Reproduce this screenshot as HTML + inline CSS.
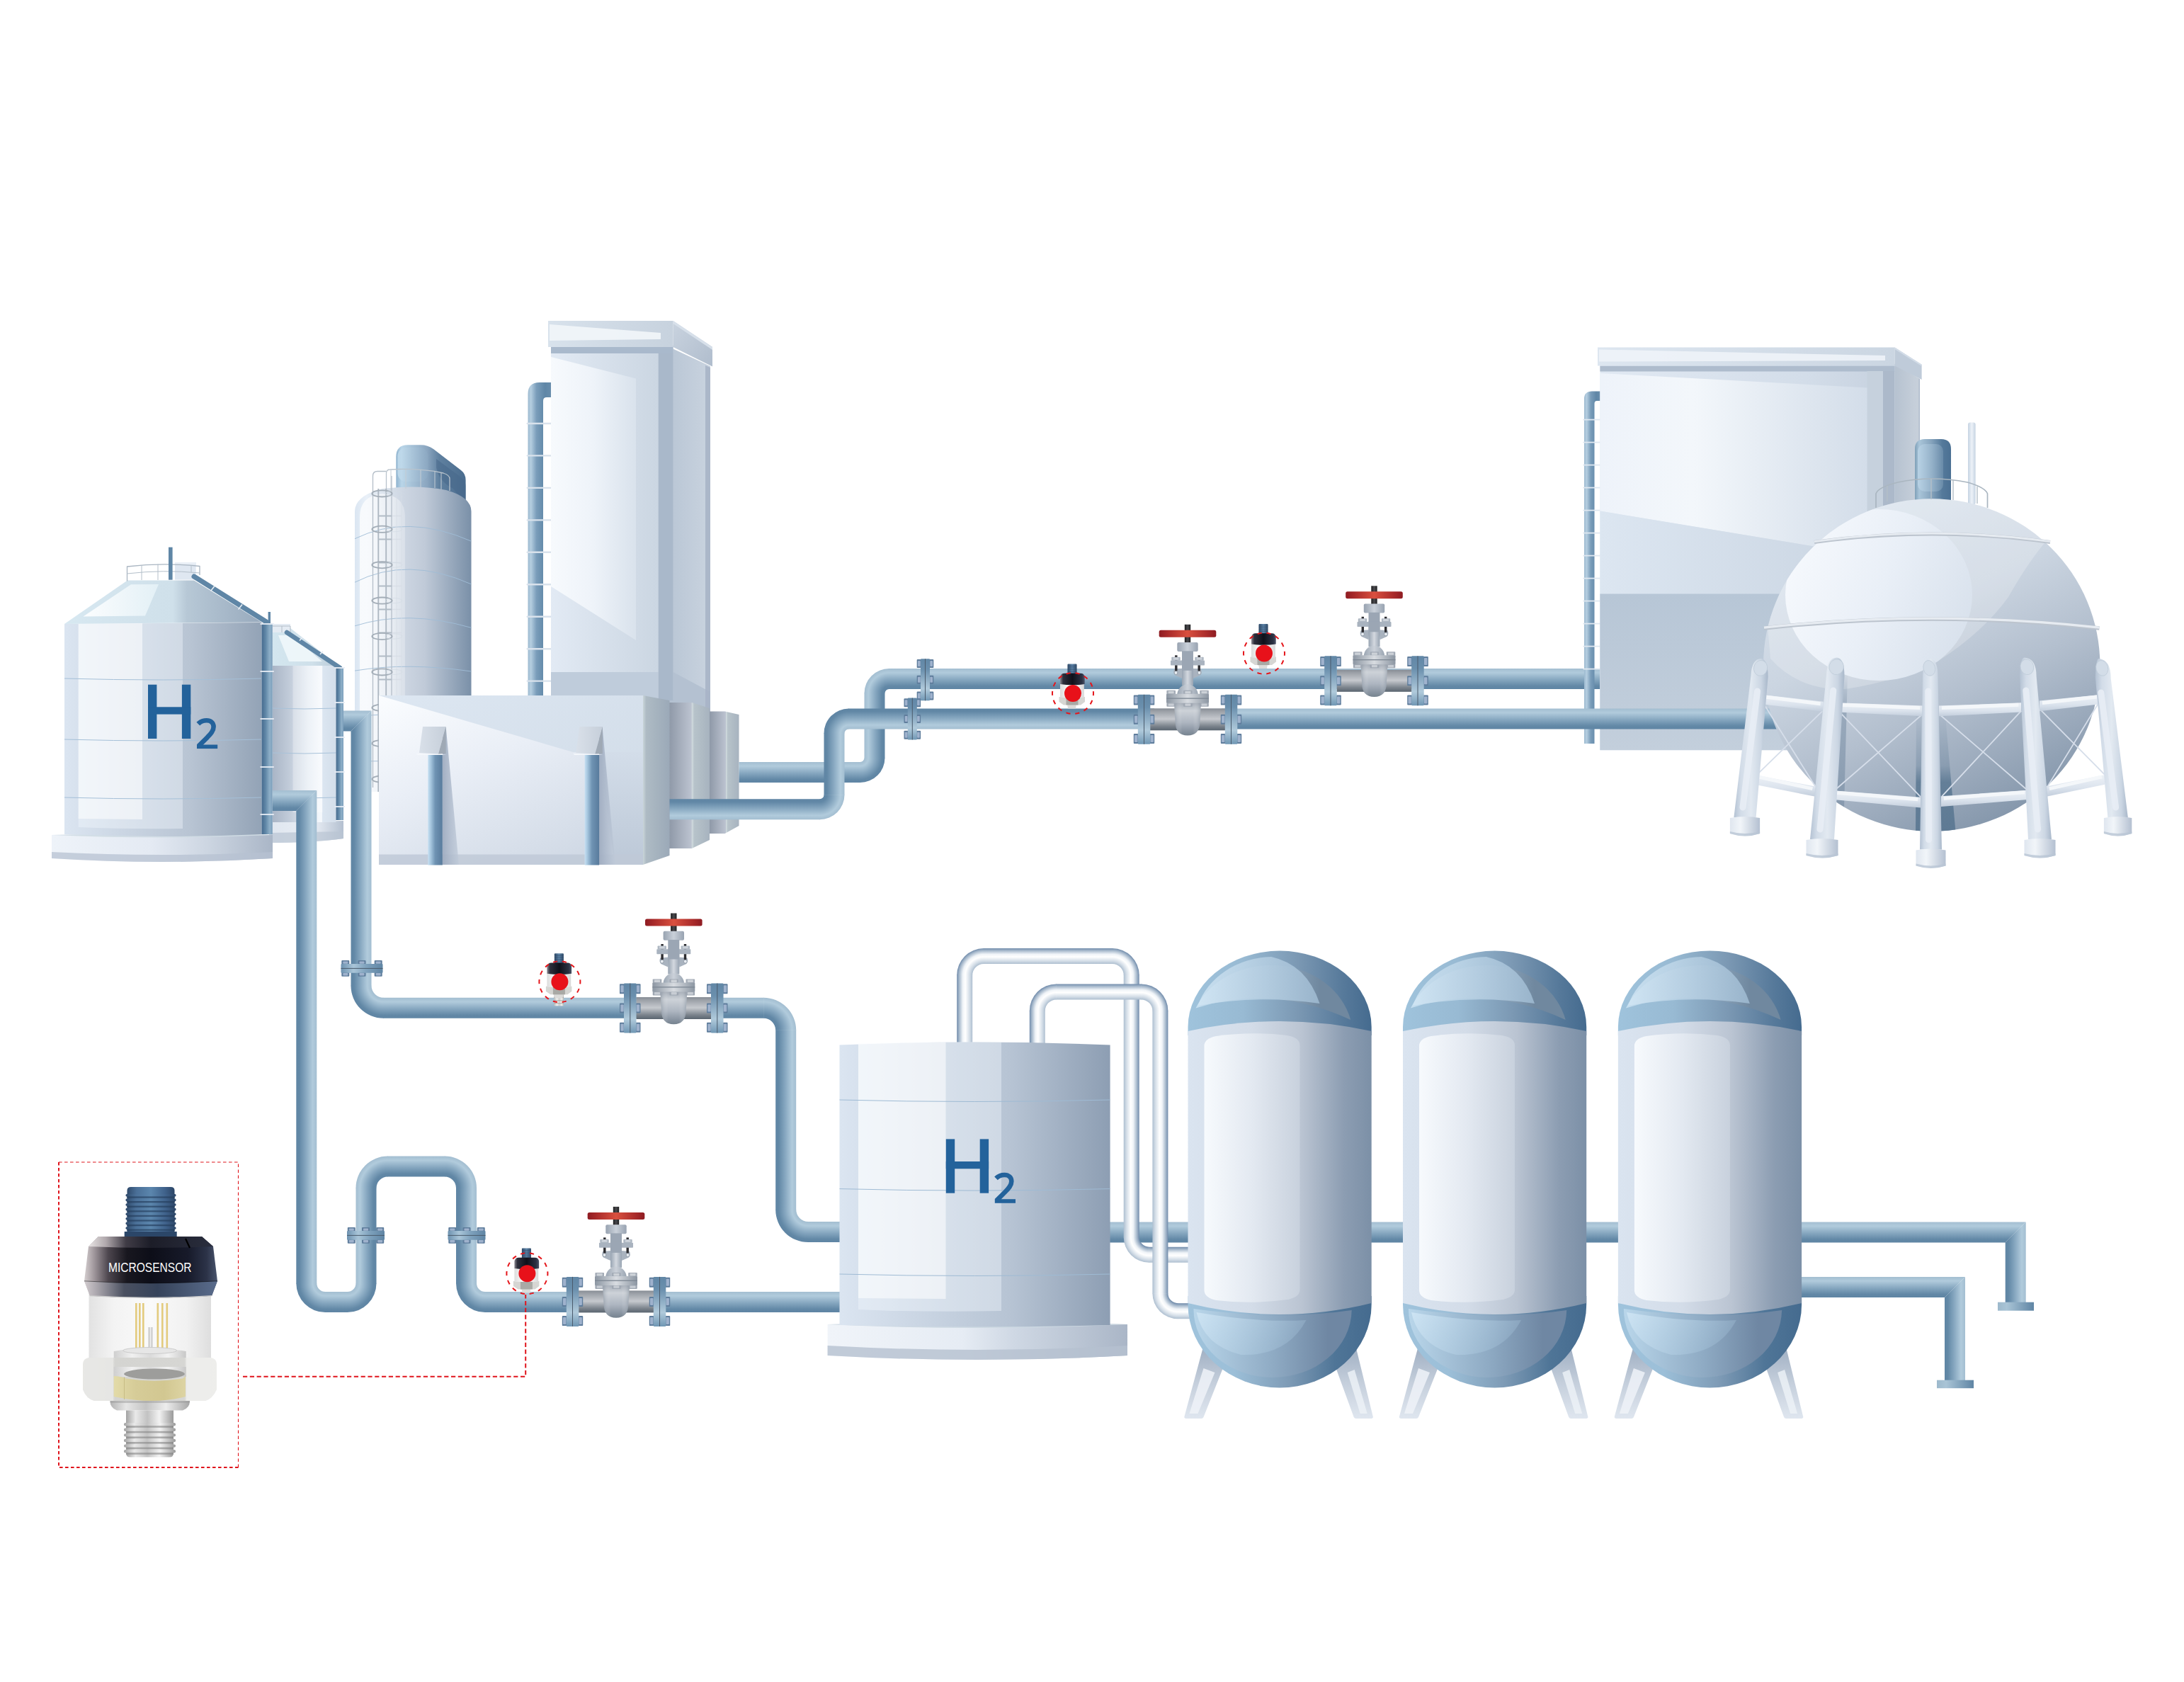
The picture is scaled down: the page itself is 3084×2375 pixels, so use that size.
<!DOCTYPE html>
<html><head><meta charset="utf-8"><title>H2 process diagram</title>
<style>html,body{margin:0;padding:0;background:#fff;}svg{display:block;font-family:"Liberation Sans",sans-serif;}</style></head>
<body>
<svg width="3084" height="2375" viewBox="0 0 3084 2375">
<defs>
<linearGradient id="g1" x1="0" y1="0" x2="0" y2="1"><stop offset="0" stop-color="#a3bed1"/><stop offset="0.2" stop-color="#b1cbdc"/><stop offset="0.55" stop-color="#85a6bf"/><stop offset="0.85" stop-color="#6288a6"/><stop offset="1" stop-color="#5f85a4"/></linearGradient>
<linearGradient id="g2" x1="1" y1="0" x2="0" y2="0"><stop offset="0" stop-color="#a3bed1"/><stop offset="0.2" stop-color="#b1cbdc"/><stop offset="0.55" stop-color="#85a6bf"/><stop offset="0.85" stop-color="#6288a6"/><stop offset="1" stop-color="#5f85a4"/></linearGradient>
<linearGradient id="g3" x1="0" y1="0" x2="1" y2="0"><stop offset="0" stop-color="#9db9cc"/><stop offset="0.25" stop-color="#a9c4d6"/><stop offset="1" stop-color="#5f85a4"/></linearGradient>
<linearGradient id="g4" x1="0" y1="0" x2="1" y2="0"><stop offset="0" stop-color="#9db9cc"/><stop offset="0.25" stop-color="#a9c4d6"/><stop offset="1" stop-color="#5f85a4"/></linearGradient>
<linearGradient id="g5" x1="0" y1="0" x2="1" y2="0"><stop offset="0" stop-color="#6f8aaa"/><stop offset="0.14" stop-color="#a3b6ca"/><stop offset="0.38" stop-color="#f0f4f8"/><stop offset="0.55" stop-color="#ffffff"/><stop offset="0.82" stop-color="#d3dde7"/><stop offset="1" stop-color="#aebfd0"/></linearGradient>
<linearGradient id="g6" x1="0" y1="0" x2="0" y2="1"><stop offset="0" stop-color="#6f8aaa"/><stop offset="0.14" stop-color="#a3b6ca"/><stop offset="0.38" stop-color="#f0f4f8"/><stop offset="0.55" stop-color="#ffffff"/><stop offset="0.82" stop-color="#d3dde7"/><stop offset="1" stop-color="#aebfd0"/></linearGradient>
<linearGradient id="g7" x1="1" y1="0" x2="0" y2="0"><stop offset="0" stop-color="#6f8aaa"/><stop offset="0.14" stop-color="#a3b6ca"/><stop offset="0.38" stop-color="#f0f4f8"/><stop offset="0.55" stop-color="#ffffff"/><stop offset="0.82" stop-color="#d3dde7"/><stop offset="1" stop-color="#aebfd0"/></linearGradient>
<radialGradient id="g8" cx="1389.2" cy="1377" r="38" gradientUnits="userSpaceOnUse"><stop offset="0.421" stop-color="#aebfd0"/><stop offset="0.525" stop-color="#d3dde7"/><stop offset="0.682" stop-color="#ffffff"/><stop offset="0.78" stop-color="#f0f4f8"/><stop offset="0.919" stop-color="#a3b6ca"/><stop offset="1" stop-color="#6f8aaa"/></radialGradient>
<radialGradient id="g9" cx="1570.7" cy="1377" r="38" gradientUnits="userSpaceOnUse"><stop offset="0.421" stop-color="#aebfd0"/><stop offset="0.525" stop-color="#d3dde7"/><stop offset="0.682" stop-color="#ffffff"/><stop offset="0.78" stop-color="#f0f4f8"/><stop offset="0.919" stop-color="#a3b6ca"/><stop offset="1" stop-color="#6f8aaa"/></radialGradient>
<radialGradient id="g10" cx="1622.7" cy="1746.7" r="36" gradientUnits="userSpaceOnUse"><stop offset="0.389" stop-color="#6f8aaa"/><stop offset="0.474" stop-color="#a3b6ca"/><stop offset="0.621" stop-color="#f0f4f8"/><stop offset="0.725" stop-color="#ffffff"/><stop offset="0.89" stop-color="#d3dde7"/><stop offset="1" stop-color="#aebfd0"/></radialGradient>
<radialGradient id="g11" cx="1491.8" cy="1427.4" r="38" gradientUnits="userSpaceOnUse"><stop offset="0.421" stop-color="#aebfd0"/><stop offset="0.525" stop-color="#d3dde7"/><stop offset="0.682" stop-color="#ffffff"/><stop offset="0.78" stop-color="#f0f4f8"/><stop offset="0.919" stop-color="#a3b6ca"/><stop offset="1" stop-color="#6f8aaa"/></radialGradient>
<radialGradient id="g12" cx="1611.4" cy="1427.4" r="38" gradientUnits="userSpaceOnUse"><stop offset="0.421" stop-color="#aebfd0"/><stop offset="0.525" stop-color="#d3dde7"/><stop offset="0.682" stop-color="#ffffff"/><stop offset="0.78" stop-color="#f0f4f8"/><stop offset="0.919" stop-color="#a3b6ca"/><stop offset="1" stop-color="#6f8aaa"/></radialGradient>
<radialGradient id="g13" cx="1663.4" cy="1826.2" r="36" gradientUnits="userSpaceOnUse"><stop offset="0.389" stop-color="#6f8aaa"/><stop offset="0.474" stop-color="#a3b6ca"/><stop offset="0.621" stop-color="#f0f4f8"/><stop offset="0.725" stop-color="#ffffff"/><stop offset="0.89" stop-color="#d3dde7"/><stop offset="1" stop-color="#aebfd0"/></radialGradient>
<linearGradient id="g14" x1="0" y1="0" x2="0" y2="1"><stop offset="0" stop-color="#8d9eb5"/><stop offset="0.3" stop-color="#a9b7c9"/><stop offset="0.6" stop-color="#c5cfdc"/><stop offset="1" stop-color="#dfe6ef"/></linearGradient>
<linearGradient id="g15" x1="0" y1="0" x2="1" y2="0"><stop offset="0" stop-color="#9fc3dc"/><stop offset="0.25" stop-color="#9cbfd8"/><stop offset="0.55" stop-color="#7e9bb6"/><stop offset="0.8" stop-color="#4f7597"/><stop offset="1" stop-color="#456b8f"/></linearGradient>
<linearGradient id="g16" x1="0" y1="0" x2="1" y2="0"><stop offset="0" stop-color="#b9d6ea"/><stop offset="0.5" stop-color="#8fabc4"/><stop offset="0.85" stop-color="#6f87a3"/><stop offset="1" stop-color="#6f87a3"/></linearGradient>
<linearGradient id="g17" x1="0" y1="0" x2="1" y2="0.3"><stop offset="0" stop-color="#cfe5f4" stop-opacity="0.9"/><stop offset="1" stop-color="#a8c6dd" stop-opacity="0.3"/></linearGradient>
<linearGradient id="g18" x1="0" y1="0" x2="1" y2="0"><stop offset="0" stop-color="#9fc3dc"/><stop offset="0.3" stop-color="#98bad3"/><stop offset="0.6" stop-color="#7b98b3"/><stop offset="0.85" stop-color="#56799a"/><stop offset="1" stop-color="#456b8f"/></linearGradient>
<linearGradient id="g19" x1="0" y1="0" x2="1" y2="0"><stop offset="0" stop-color="#c6dff0"/><stop offset="0.45" stop-color="#9db8cf"/><stop offset="0.8" stop-color="#70889f"/><stop offset="1" stop-color="#70889f"/></linearGradient>
<linearGradient id="g20" x1="0" y1="0" x2="1" y2="0"><stop offset="0" stop-color="#d2e6f4"/><stop offset="1" stop-color="#a3bfd6"/></linearGradient>
<linearGradient id="g21" x1="0" y1="0" x2="1" y2="0"><stop offset="0" stop-color="#dae4f0"/><stop offset="0.35" stop-color="#d3dce8"/><stop offset="0.62" stop-color="#bac4d2"/><stop offset="0.85" stop-color="#8c9db2"/><stop offset="1" stop-color="#7c90a7"/></linearGradient>
<linearGradient id="g22" x1="0" y1="0" x2="1" y2="0"><stop offset="0" stop-color="#f7fafd"/><stop offset="0.5" stop-color="#e3e9f1"/><stop offset="1" stop-color="#c8d1dd"/></linearGradient>
<linearGradient id="g23" x1="0" y1="0" x2="0" y2="1"><stop offset="0" stop-color="#8d9eb5"/><stop offset="0.3" stop-color="#a9b7c9"/><stop offset="0.6" stop-color="#c5cfdc"/><stop offset="1" stop-color="#dfe6ef"/></linearGradient>
<linearGradient id="g24" x1="0" y1="0" x2="1" y2="0"><stop offset="0" stop-color="#9fc3dc"/><stop offset="0.25" stop-color="#9cbfd8"/><stop offset="0.55" stop-color="#7e9bb6"/><stop offset="0.8" stop-color="#4f7597"/><stop offset="1" stop-color="#456b8f"/></linearGradient>
<linearGradient id="g25" x1="0" y1="0" x2="1" y2="0"><stop offset="0" stop-color="#b9d6ea"/><stop offset="0.5" stop-color="#8fabc4"/><stop offset="0.85" stop-color="#6f87a3"/><stop offset="1" stop-color="#6f87a3"/></linearGradient>
<linearGradient id="g26" x1="0" y1="0" x2="1" y2="0.3"><stop offset="0" stop-color="#cfe5f4" stop-opacity="0.9"/><stop offset="1" stop-color="#a8c6dd" stop-opacity="0.3"/></linearGradient>
<linearGradient id="g27" x1="0" y1="0" x2="1" y2="0"><stop offset="0" stop-color="#9fc3dc"/><stop offset="0.3" stop-color="#98bad3"/><stop offset="0.6" stop-color="#7b98b3"/><stop offset="0.85" stop-color="#56799a"/><stop offset="1" stop-color="#456b8f"/></linearGradient>
<linearGradient id="g28" x1="0" y1="0" x2="1" y2="0"><stop offset="0" stop-color="#c6dff0"/><stop offset="0.45" stop-color="#9db8cf"/><stop offset="0.8" stop-color="#70889f"/><stop offset="1" stop-color="#70889f"/></linearGradient>
<linearGradient id="g29" x1="0" y1="0" x2="1" y2="0"><stop offset="0" stop-color="#d2e6f4"/><stop offset="1" stop-color="#a3bfd6"/></linearGradient>
<linearGradient id="g30" x1="0" y1="0" x2="1" y2="0"><stop offset="0" stop-color="#dae4f0"/><stop offset="0.35" stop-color="#d3dce8"/><stop offset="0.62" stop-color="#bac4d2"/><stop offset="0.85" stop-color="#8c9db2"/><stop offset="1" stop-color="#7c90a7"/></linearGradient>
<linearGradient id="g31" x1="0" y1="0" x2="1" y2="0"><stop offset="0" stop-color="#f7fafd"/><stop offset="0.5" stop-color="#e3e9f1"/><stop offset="1" stop-color="#c8d1dd"/></linearGradient>
<linearGradient id="g32" x1="0" y1="0" x2="0" y2="1"><stop offset="0" stop-color="#8d9eb5"/><stop offset="0.3" stop-color="#a9b7c9"/><stop offset="0.6" stop-color="#c5cfdc"/><stop offset="1" stop-color="#dfe6ef"/></linearGradient>
<linearGradient id="g33" x1="0" y1="0" x2="1" y2="0"><stop offset="0" stop-color="#9fc3dc"/><stop offset="0.25" stop-color="#9cbfd8"/><stop offset="0.55" stop-color="#7e9bb6"/><stop offset="0.8" stop-color="#4f7597"/><stop offset="1" stop-color="#456b8f"/></linearGradient>
<linearGradient id="g34" x1="0" y1="0" x2="1" y2="0"><stop offset="0" stop-color="#b9d6ea"/><stop offset="0.5" stop-color="#8fabc4"/><stop offset="0.85" stop-color="#6f87a3"/><stop offset="1" stop-color="#6f87a3"/></linearGradient>
<linearGradient id="g35" x1="0" y1="0" x2="1" y2="0.3"><stop offset="0" stop-color="#cfe5f4" stop-opacity="0.9"/><stop offset="1" stop-color="#a8c6dd" stop-opacity="0.3"/></linearGradient>
<linearGradient id="g36" x1="0" y1="0" x2="1" y2="0"><stop offset="0" stop-color="#9fc3dc"/><stop offset="0.3" stop-color="#98bad3"/><stop offset="0.6" stop-color="#7b98b3"/><stop offset="0.85" stop-color="#56799a"/><stop offset="1" stop-color="#456b8f"/></linearGradient>
<linearGradient id="g37" x1="0" y1="0" x2="1" y2="0"><stop offset="0" stop-color="#c6dff0"/><stop offset="0.45" stop-color="#9db8cf"/><stop offset="0.8" stop-color="#70889f"/><stop offset="1" stop-color="#70889f"/></linearGradient>
<linearGradient id="g38" x1="0" y1="0" x2="1" y2="0"><stop offset="0" stop-color="#d2e6f4"/><stop offset="1" stop-color="#a3bfd6"/></linearGradient>
<linearGradient id="g39" x1="0" y1="0" x2="1" y2="0"><stop offset="0" stop-color="#dae4f0"/><stop offset="0.35" stop-color="#d3dce8"/><stop offset="0.62" stop-color="#bac4d2"/><stop offset="0.85" stop-color="#8c9db2"/><stop offset="1" stop-color="#7c90a7"/></linearGradient>
<linearGradient id="g40" x1="0" y1="0" x2="1" y2="0"><stop offset="0" stop-color="#f7fafd"/><stop offset="0.5" stop-color="#e3e9f1"/><stop offset="1" stop-color="#c8d1dd"/></linearGradient>
<linearGradient id="g41" x1="0" y1="0" x2="1" y2="0"><stop offset="0" stop-color="#a9b5c6"/><stop offset="0.3" stop-color="#c5cfdc"/><stop offset="0.55" stop-color="#e4ebf3"/><stop offset="0.775" stop-color="#f6f9fd"/><stop offset="0.785" stop-color="#dce6f1"/><stop offset="1" stop-color="#d3deea"/></linearGradient>
<linearGradient id="g42" x1="0" y1="0" x2="1" y2="0"><stop offset="0" stop-color="#dfe6ef"/><stop offset="0.6" stop-color="#e9eef5"/><stop offset="1" stop-color="#b4c0d0"/></linearGradient>
<linearGradient id="g43" x1="0" y1="0" x2="1" y2="0"><stop offset="0" stop-color="#d3e6ef"/><stop offset="0.6" stop-color="#cfe0ea"/><stop offset="1" stop-color="#b9cad8"/></linearGradient>
<linearGradient id="g44" x1="0" y1="0" x2="1" y2="0"><stop offset="0" stop-color="#466b8e"/><stop offset="0.35" stop-color="#5f86a6"/><stop offset="0.75" stop-color="#8fb0c8"/><stop offset="1" stop-color="#7a9dba"/></linearGradient>
<linearGradient id="g45" x1="0" y1="0" x2="1" y2="0"><stop offset="0" stop-color="#eef3f9"/><stop offset="0.45" stop-color="#e4eaf3"/><stop offset="0.7" stop-color="#cdd6e2"/><stop offset="1" stop-color="#aab6c7"/></linearGradient>
<linearGradient id="g46" x1="0" y1="0" x2="1" y2="0"><stop offset="0" stop-color="#dbe5f1"/><stop offset="0.64" stop-color="#b8c4d3"/><stop offset="1" stop-color="#93a3b6"/></linearGradient>
<linearGradient id="g47" x1="0" y1="0" x2="1" y2="0"><stop offset="0" stop-color="#d7e8f1"/><stop offset="0.55" stop-color="#cfe0ea"/><stop offset="0.62" stop-color="#b7c8d6"/><stop offset="1" stop-color="#98aabd"/></linearGradient>
<linearGradient id="g48" x1="0" y1="0" x2="1" y2="0"><stop offset="0" stop-color="#fbfdfe"/><stop offset="1" stop-color="#e3f0f6"/></linearGradient>
<linearGradient id="g49" x1="0" y1="0" x2="0" y2="1"><stop offset="0" stop-color="#7fa2bd"/><stop offset="1" stop-color="#557c9e"/></linearGradient>
<linearGradient id="g50" x1="0" y1="0" x2="1" y2="0"><stop offset="0" stop-color="#466b8e"/><stop offset="0.35" stop-color="#5f86a6"/><stop offset="0.75" stop-color="#8fb0c8"/><stop offset="1" stop-color="#7a9dba"/></linearGradient>
<linearGradient id="g51" x1="0" y1="0" x2="1" y2="0"><stop offset="0" stop-color="#8fb3cf"/><stop offset="0.08" stop-color="#b9d5e8"/><stop offset="0.45" stop-color="#8aa5bf"/><stop offset="0.62" stop-color="#5f809f"/><stop offset="1" stop-color="#4a6c8e"/></linearGradient>
<linearGradient id="g52" x1="0" y1="0" x2="1" y2="0"><stop offset="0" stop-color="#c7e0f0"/><stop offset="1" stop-color="#8ba8c2"/></linearGradient>
<linearGradient id="g53" x1="0" y1="0" x2="1" y2="0"><stop offset="0" stop-color="#dbe6f2"/><stop offset="0.1" stop-color="#e9f0f8"/><stop offset="0.42" stop-color="#cdd6e2"/><stop offset="0.6" stop-color="#c0cad8"/><stop offset="1" stop-color="#7a90a8"/></linearGradient>
<linearGradient id="g54" x1="0" y1="0" x2="1" y2="0"><stop offset="0" stop-color="#ffffff" stop-opacity="0.75"/><stop offset="0.7" stop-color="#ffffff" stop-opacity="0.45"/><stop offset="1" stop-color="#ffffff" stop-opacity="0.25"/></linearGradient>
<linearGradient id="g55" x1="0" y1="0" x2="1" y2="0"><stop offset="0" stop-color="#9dbad0"/><stop offset="0.12" stop-color="#b5cee0"/><stop offset="0.35" stop-color="#7a9dba"/><stop offset="0.7" stop-color="#5f86a6"/><stop offset="1" stop-color="#6a8fad"/></linearGradient>
<linearGradient id="g56" x1="0" y1="0" x2="1" y2="0"><stop offset="0" stop-color="#b9c6d5"/><stop offset="1" stop-color="#c9d3df"/></linearGradient>
<linearGradient id="g57" x1="0" y1="0" x2="1" y2="0"><stop offset="0" stop-color="#dfe8f2"/><stop offset="0.6" stop-color="#d0dae6"/><stop offset="1" stop-color="#c2cedc"/></linearGradient>
<linearGradient id="g58" x1="0" y1="0" x2="1" y2="0"><stop offset="0" stop-color="#e2eaf4"/><stop offset="1" stop-color="#cbd6e2"/></linearGradient>
<linearGradient id="g59" x1="0" y1="0" x2="1" y2="0"><stop offset="0" stop-color="#f7fafd"/><stop offset="0.5" stop-color="#eef3f9"/><stop offset="1" stop-color="#d9e2ec"/></linearGradient>
<linearGradient id="g60" x1="0" y1="0" x2="1" y2="0"><stop offset="0" stop-color="#d8e2ec"/><stop offset="1" stop-color="#c7d2de"/></linearGradient>
<linearGradient id="g61" x1="0" y1="0" x2="1" y2="1"><stop offset="0" stop-color="#c9d3df"/><stop offset="1" stop-color="#b0bdcd"/></linearGradient>
<linearGradient id="g62" x1="0" y1="0" x2="1" y2="0"><stop offset="0" stop-color="#8f99a8"/><stop offset="0.55" stop-color="#bcc3d0"/><stop offset="0.56" stop-color="#d3dde0"/><stop offset="0.62" stop-color="#b7c3ca"/><stop offset="1" stop-color="#a7b3bf"/></linearGradient>
<linearGradient id="g63" x1="0" y1="0" x2="1" y2="0"><stop offset="0" stop-color="#c9d5d9"/><stop offset="0.12" stop-color="#aebbc4"/><stop offset="1" stop-color="#9ba9b8"/></linearGradient>
<linearGradient id="g64" x1="0" y1="0" x2="0.7" y2="1"><stop offset="0" stop-color="#fbfdff"/><stop offset="0.45" stop-color="#e9eef6"/><stop offset="1" stop-color="#d0d9e5"/></linearGradient>
<linearGradient id="g65" x1="0" y1="0" x2="1" y2="1"><stop offset="0" stop-color="#dde7f2"/><stop offset="1" stop-color="#cfdae6"/></linearGradient>
<linearGradient id="g66" x1="0" y1="0" x2="0" y2="1"><stop offset="0" stop-color="#d3dde9"/><stop offset="1" stop-color="#bcc8d7"/></linearGradient>
<linearGradient id="g67" x1="0" y1="0" x2="1" y2="0"><stop offset="0" stop-color="#9facc0" stop-opacity="0.95"/><stop offset="1" stop-color="#bec9d8" stop-opacity="0.75"/></linearGradient>
<linearGradient id="g68" x1="0" y1="0" x2="1" y2="0"><stop offset="0" stop-color="#c7e0f2"/><stop offset="0.18" stop-color="#a8c8e0"/><stop offset="0.5" stop-color="#6f93b3"/><stop offset="1" stop-color="#587b9c"/></linearGradient>
<linearGradient id="g69" x1="0" y1="0" x2="1" y2="0"><stop offset="0" stop-color="#d9e0e9"/><stop offset="1" stop-color="#c6cfda"/></linearGradient>
<linearGradient id="g70" x1="0" y1="0" x2="1" y2="0"><stop offset="0" stop-color="#a3bed1"/><stop offset="0.2" stop-color="#b1cbdc"/><stop offset="0.55" stop-color="#85a6bf"/><stop offset="0.85" stop-color="#6288a6"/><stop offset="1" stop-color="#5f85a4"/></linearGradient>
<radialGradient id="g71" cx="1214.5" cy="1070" r="35" gradientUnits="userSpaceOnUse"><stop offset="0.171" stop-color="#a3bed1"/><stop offset="0.337" stop-color="#b1cbdc"/><stop offset="0.627" stop-color="#85a6bf"/><stop offset="0.876" stop-color="#6288a6"/><stop offset="1" stop-color="#5f85a4"/></radialGradient>
<radialGradient id="g72" cx="1255.5" cy="979" r="35" gradientUnits="userSpaceOnUse"><stop offset="0.171" stop-color="#5f85a4"/><stop offset="0.296" stop-color="#6288a6"/><stop offset="0.544" stop-color="#85a6bf"/><stop offset="0.834" stop-color="#b1cbdc"/><stop offset="1" stop-color="#a3bed1"/></radialGradient>
<linearGradient id="g73" x1="0" y1="0" x2="1" y2="0"><stop offset="0" stop-color="#9dbad0"/><stop offset="0.15" stop-color="#b5cee0"/><stop offset="0.4" stop-color="#7a9dba"/><stop offset="0.75" stop-color="#5f86a6"/><stop offset="1" stop-color="#6a8fad"/></linearGradient>
<linearGradient id="g74" x1="0" y1="0" x2="1" y2="0"><stop offset="0" stop-color="#b6c2d0"/><stop offset="0.85" stop-color="#c6cfda"/><stop offset="0.93" stop-color="#c6cfda"/><stop offset="1" stop-color="#a9b6c8"/></linearGradient>
<linearGradient id="g75" x1="0" y1="0" x2="1" y2="0"><stop offset="0" stop-color="#e1e9f3"/><stop offset="0.7" stop-color="#d3dde9"/><stop offset="1" stop-color="#c5d0de"/></linearGradient>
<linearGradient id="g76" x1="0" y1="0" x2="1" y2="0"><stop offset="0" stop-color="#eef3fa"/><stop offset="0.35" stop-color="#f3f7fb"/><stop offset="1" stop-color="#d3dde9"/></linearGradient>
<linearGradient id="g77" x1="0" y1="0" x2="1" y2="0"><stop offset="0" stop-color="#dce6f1"/><stop offset="1" stop-color="#cad5e2"/></linearGradient>
<linearGradient id="g78" x1="0" y1="0" x2="0" y2="1"><stop offset="0" stop-color="#b7c6d6"/><stop offset="1" stop-color="#c3cfdc"/></linearGradient>
<linearGradient id="g79" x1="0" y1="0" x2="1" y2="0"><stop offset="0" stop-color="#dde6f0"/><stop offset="1" stop-color="#cbd6e2"/></linearGradient>
<linearGradient id="g80" x1="0" y1="1" x2="0" y2="0"><stop offset="0" stop-color="#a3bed1"/><stop offset="0.2" stop-color="#b1cbdc"/><stop offset="0.55" stop-color="#85a6bf"/><stop offset="0.85" stop-color="#6288a6"/><stop offset="1" stop-color="#5f85a4"/></linearGradient>
<radialGradient id="g81" cx="1157.5" cy="1122.2" r="35" gradientUnits="userSpaceOnUse"><stop offset="0.171" stop-color="#5f85a4"/><stop offset="0.296" stop-color="#6288a6"/><stop offset="0.544" stop-color="#85a6bf"/><stop offset="0.834" stop-color="#b1cbdc"/><stop offset="1" stop-color="#a3bed1"/></radialGradient>
<radialGradient id="g82" cx="1198.5" cy="1035.5" r="35" gradientUnits="userSpaceOnUse"><stop offset="0.171" stop-color="#a3bed1"/><stop offset="0.337" stop-color="#b1cbdc"/><stop offset="0.627" stop-color="#85a6bf"/><stop offset="0.876" stop-color="#6288a6"/><stop offset="1" stop-color="#5f85a4"/></radialGradient>
<linearGradient id="g83" x1="0" y1="0" x2="0" y2="1"><stop offset="0" stop-color="#6187a6"/><stop offset="0.25" stop-color="#6a8fad"/><stop offset="0.72" stop-color="#b0cadb"/><stop offset="1" stop-color="#7097b4"/></linearGradient>
<linearGradient id="g84" x1="0" y1="0" x2="1" y2="0"><stop offset="0" stop-color="#6d92b0"/><stop offset="0.3" stop-color="#a9c5d8"/><stop offset="0.6" stop-color="#7fa2bd"/><stop offset="1" stop-color="#5f85a4"/></linearGradient>
<linearGradient id="g85" x1="0" y1="0" x2="1" y2="0"><stop offset="0" stop-color="#7fa0b8"/><stop offset="0.12" stop-color="#a9c5d9"/><stop offset="0.45" stop-color="#86a4bd"/><stop offset="0.75" stop-color="#557a9b"/><stop offset="1" stop-color="#4b7093"/></linearGradient>
<linearGradient id="g86" x1="0" y1="0" x2="1" y2="0"><stop offset="0" stop-color="#b9d3e6" stop-opacity="0.9"/><stop offset="1" stop-color="#8aa7c0" stop-opacity="0.4"/></linearGradient>
<linearGradient id="g87" x1="0" y1="0" x2="1" y2="0"><stop offset="0" stop-color="#c5d3e2"/><stop offset="0.5" stop-color="#edf2f8"/><stop offset="1" stop-color="#c5d3e2"/></linearGradient>
<linearGradient id="g88" x1="0.25" y1="0.02" x2="0.75" y2="1"><stop offset="0" stop-color="#dbe4ee"/><stop offset="0.35" stop-color="#cbd5e1"/><stop offset="0.6" stop-color="#b3bfce"/><stop offset="0.8" stop-color="#9aa9bb"/><stop offset="1" stop-color="#7f92a7"/></linearGradient>
<clipPath id="c89"><ellipse cx="2727.7" cy="939" rx="237.7" ry="234.7"/></clipPath>
<linearGradient id="g90" x1="0" y1="0" x2="0" y2="1"><stop offset="0" stop-color="#56748f" stop-opacity="0"/><stop offset="0.45" stop-color="#56748f" stop-opacity="0.3"/><stop offset="0.58" stop-color="#56748f" stop-opacity="0.8"/><stop offset="1" stop-color="#56748f" stop-opacity="0.85"/></linearGradient>
<linearGradient id="g91" x1="0" y1="0" x2="0" y2="1"><stop offset="0" stop-color="#6d849c" stop-opacity="0"/><stop offset="0.25" stop-color="#6d849c" stop-opacity="0.45"/><stop offset="1" stop-color="#6d849c" stop-opacity="0.55"/></linearGradient>
<linearGradient id="g92" x1="0" y1="0.3" x2="1" y2="0.7"><stop offset="0" stop-color="#f6f9fd"/><stop offset="0.5" stop-color="#e9eff7"/><stop offset="1" stop-color="#d8e1ec"/></linearGradient>
<linearGradient id="g93" x1="0" y1="0" x2="1" y2="0"><stop offset="0" stop-color="#b4c2d3"/><stop offset="0.2" stop-color="#d2dce8"/><stop offset="0.5" stop-color="#e2e9f1"/><stop offset="0.8" stop-color="#cbd6e3"/><stop offset="1" stop-color="#a9b8ca"/></linearGradient>
<linearGradient id="g94" x1="0" y1="0" x2="1" y2="0"><stop offset="0" stop-color="#dfe6ef"/><stop offset="0.35" stop-color="#f1f5f9"/><stop offset="1" stop-color="#b4c0d1"/></linearGradient>
<linearGradient id="g95" x1="0" y1="0" x2="0" y2="1"><stop offset="0" stop-color="#eef2f7"/><stop offset="0.6" stop-color="#dbe3ed"/><stop offset="1" stop-color="#c3cedc"/></linearGradient>
<linearGradient id="g96" x1="0" y1="0" x2="0" y2="1"><stop offset="0" stop-color="#868c94"/><stop offset="0.12" stop-color="#9a9fa6"/><stop offset="0.48" stop-color="#c6c9ce"/><stop offset="0.8" stop-color="#7d858e"/><stop offset="1" stop-color="#5a6570"/></linearGradient>
<linearGradient id="g97" x1="0" y1="0" x2="1" y2="0"><stop offset="0" stop-color="#8e1c22"/><stop offset="0.15" stop-color="#a82a2a"/><stop offset="0.5" stop-color="#d9503f"/><stop offset="0.85" stop-color="#a82a2a"/><stop offset="1" stop-color="#8e1c22"/></linearGradient>
<linearGradient id="g98" x1="0" y1="0" x2="1" y2="0"><stop offset="0" stop-color="#98a3b1"/><stop offset="0.5" stop-color="#c9d0d9"/><stop offset="1" stop-color="#98a3b1"/></linearGradient>
<linearGradient id="g99" x1="0" y1="0" x2="1" y2="0"><stop offset="0" stop-color="#98a4b2"/><stop offset="0.5" stop-color="#d3d8df"/><stop offset="1" stop-color="#98a4b2"/></linearGradient>
<linearGradient id="g100" x1="0" y1="0" x2="1" y2="0"><stop offset="0" stop-color="#8c96a2"/><stop offset="0.5" stop-color="#d8dce1"/><stop offset="1" stop-color="#8c96a2"/></linearGradient>
<linearGradient id="g101" x1="0" y1="0" x2="0" y2="1"><stop offset="0" stop-color="#a0a8b3"/><stop offset="0.25" stop-color="#cdd2d8"/><stop offset="0.6" stop-color="#aeb6c1"/><stop offset="0.85" stop-color="#8a95a2"/><stop offset="1" stop-color="#76838f"/></linearGradient>
<linearGradient id="g102" x1="0" y1="0" x2="1" y2="0"><stop offset="0" stop-color="#6f7c8a" stop-opacity="0.45"/><stop offset="0.3" stop-color="#ffffff" stop-opacity="0"/><stop offset="0.7" stop-color="#ffffff" stop-opacity="0"/><stop offset="1" stop-color="#6f7c8a" stop-opacity="0.45"/></linearGradient>
<linearGradient id="g103" x1="0" y1="0" x2="1" y2="0"><stop offset="0" stop-color="#9aa5b2"/><stop offset="0.5" stop-color="#cbd1d9"/><stop offset="1" stop-color="#9aa5b2"/></linearGradient>
<linearGradient id="g104" x1="0" y1="0" x2="1" y2="0"><stop offset="0" stop-color="#1d1d1f"/><stop offset="0.5" stop-color="#4a4a4e"/><stop offset="1" stop-color="#1d1d1f"/></linearGradient>
<linearGradient id="g105" x1="0" y1="0" x2="1" y2="0"><stop offset="0" stop-color="#2f4a68"/><stop offset="0.5" stop-color="#5f86aa"/><stop offset="1" stop-color="#2f4a68"/></linearGradient>
<linearGradient id="g106" x1="0" y1="0" x2="1" y2="0"><stop offset="0" stop-color="#8a8890"/><stop offset="0.12" stop-color="#2e2f3c"/><stop offset="0.5" stop-color="#0f101a"/><stop offset="0.88" stop-color="#2b3142"/><stop offset="1" stop-color="#4a5266"/></linearGradient>
<linearGradient id="g107" x1="0" y1="0" x2="1" y2="0"><stop offset="0" stop-color="#dcdcdc"/><stop offset="0.3" stop-color="#f6f6f6"/><stop offset="0.7" stop-color="#f2f2f2"/><stop offset="1" stop-color="#d8d8d8"/></linearGradient>
<radialGradient id="g108" cx="459.3" cy="1812" r="41" gradientUnits="userSpaceOnUse"><stop offset="0.293" stop-color="#a3bed1"/><stop offset="0.434" stop-color="#b1cbdc"/><stop offset="0.682" stop-color="#85a6bf"/><stop offset="0.894" stop-color="#6288a6"/><stop offset="1" stop-color="#5f85a4"/></radialGradient>
<radialGradient id="g109" cx="490.5" cy="1812" r="41" gradientUnits="userSpaceOnUse"><stop offset="0.293" stop-color="#a3bed1"/><stop offset="0.434" stop-color="#b1cbdc"/><stop offset="0.682" stop-color="#85a6bf"/><stop offset="0.894" stop-color="#6288a6"/><stop offset="1" stop-color="#5f85a4"/></radialGradient>
<radialGradient id="g110" cx="547.5" cy="1677.5" r="45" gradientUnits="userSpaceOnUse"><stop offset="0.356" stop-color="#5f85a4"/><stop offset="0.452" stop-color="#6288a6"/><stop offset="0.646" stop-color="#85a6bf"/><stop offset="0.871" stop-color="#b1cbdc"/><stop offset="1" stop-color="#a3bed1"/></radialGradient>
<radialGradient id="g111" cx="628" cy="1677.5" r="45" gradientUnits="userSpaceOnUse"><stop offset="0.356" stop-color="#5f85a4"/><stop offset="0.452" stop-color="#6288a6"/><stop offset="0.646" stop-color="#85a6bf"/><stop offset="0.871" stop-color="#b1cbdc"/><stop offset="1" stop-color="#a3bed1"/></radialGradient>
<radialGradient id="g112" cx="685" cy="1812" r="41" gradientUnits="userSpaceOnUse"><stop offset="0.293" stop-color="#a3bed1"/><stop offset="0.434" stop-color="#b1cbdc"/><stop offset="0.682" stop-color="#85a6bf"/><stop offset="0.894" stop-color="#6288a6"/><stop offset="1" stop-color="#5f85a4"/></radialGradient>
<radialGradient id="g113" cx="541.5" cy="1391.8" r="46" gradientUnits="userSpaceOnUse"><stop offset="0.37" stop-color="#a3bed1"/><stop offset="0.496" stop-color="#b1cbdc"/><stop offset="0.716" stop-color="#85a6bf"/><stop offset="0.905" stop-color="#6288a6"/><stop offset="1" stop-color="#5f85a4"/></radialGradient>
<radialGradient id="g114" cx="1078.2" cy="1454.8" r="46" gradientUnits="userSpaceOnUse"><stop offset="0.37" stop-color="#5f85a4"/><stop offset="0.464" stop-color="#6288a6"/><stop offset="0.653" stop-color="#85a6bf"/><stop offset="0.874" stop-color="#b1cbdc"/><stop offset="1" stop-color="#a3bed1"/></radialGradient>
<radialGradient id="g115" cx="1141.2" cy="1708.1" r="46" gradientUnits="userSpaceOnUse"><stop offset="0.37" stop-color="#a3bed1"/><stop offset="0.496" stop-color="#b1cbdc"/><stop offset="0.716" stop-color="#85a6bf"/><stop offset="0.905" stop-color="#6288a6"/><stop offset="1" stop-color="#5f85a4"/></radialGradient>
<linearGradient id="g116" x1="0" y1="0" x2="1" y2="0"><stop offset="0" stop-color="#bdbdbb"/><stop offset="0.3" stop-color="#f2f2f0"/><stop offset="0.55" stop-color="#d0d0ce"/><stop offset="0.8" stop-color="#f4f4f2"/><stop offset="1" stop-color="#b5b5b3"/></linearGradient>
<linearGradient id="g117" x1="0" y1="0" x2="1" y2="0"><stop offset="0" stop-color="#f0f4f9"/><stop offset="0.45" stop-color="#e6ecf4"/><stop offset="0.62" stop-color="#cfd8e4"/><stop offset="1" stop-color="#aab6c7"/></linearGradient>
<linearGradient id="g118" x1="0" y1="0" x2="1" y2="0"><stop offset="0" stop-color="#dbe5f1"/><stop offset="0.64" stop-color="#b6c3d3"/><stop offset="1" stop-color="#8d9eb3"/></linearGradient>
<linearGradient id="g119" x1="0" y1="0" x2="1" y2="0"><stop offset="0" stop-color="#2f4a6b"/><stop offset="0.2" stop-color="#4a6f97"/><stop offset="0.5" stop-color="#5b86ad"/><stop offset="0.8" stop-color="#3f618a"/><stop offset="1" stop-color="#2c4566"/></linearGradient>
<linearGradient id="g120" x1="0" y1="0" x2="1" y2="0"><stop offset="0" stop-color="#e2e2e2"/><stop offset="0.2" stop-color="#f3f3f3"/><stop offset="0.5" stop-color="#fafafa"/><stop offset="0.8" stop-color="#f1f1f1"/><stop offset="1" stop-color="#dedede"/></linearGradient>
<linearGradient id="g121" x1="0" y1="0" x2="1" y2="0"><stop offset="0" stop-color="#cfcfcf"/><stop offset="0.25" stop-color="#f0f0f0"/><stop offset="0.5" stop-color="#dadada"/><stop offset="0.75" stop-color="#f2f2f2"/><stop offset="1" stop-color="#c8c8c8"/></linearGradient>
<linearGradient id="g122" x1="0" y1="0" x2="1" y2="0"><stop offset="0" stop-color="#ededeb"/><stop offset="0.22" stop-color="#e3e3e1"/><stop offset="0.24" stop-color="#d4d4d1"/><stop offset="0.76" stop-color="#d6d6d3"/><stop offset="0.78" stop-color="#efefed"/><stop offset="1" stop-color="#f3f3f1"/></linearGradient>
<linearGradient id="g123" x1="0" y1="0" x2="1" y2="0"><stop offset="0" stop-color="#e3dba8"/><stop offset="0.3" stop-color="#d6cc98"/><stop offset="0.7" stop-color="#d2c791"/><stop offset="1" stop-color="#ddd4a3"/></linearGradient>
<linearGradient id="g124" x1="0" y1="0" x2="1" y2="0"><stop offset="0" stop-color="#b4b4b4"/><stop offset="0.2" stop-color="#e6e6e6"/><stop offset="0.45" stop-color="#c4c4c4"/><stop offset="0.7" stop-color="#ededed"/><stop offset="1" stop-color="#a6a6a6"/></linearGradient>
<linearGradient id="g125" x1="0" y1="0" x2="1" y2="0"><stop offset="0" stop-color="#a2a2a2"/><stop offset="0.2" stop-color="#e9e9e9"/><stop offset="0.45" stop-color="#c2c2c2"/><stop offset="0.7" stop-color="#f2f2f2"/><stop offset="1" stop-color="#9a9a9a"/></linearGradient>
<linearGradient id="g126" x1="0" y1="0" x2="1" y2="0"><stop offset="0" stop-color="#d5cfd0"/><stop offset="0.07" stop-color="#a39a9f"/><stop offset="0.18" stop-color="#4d464e"/><stop offset="0.32" stop-color="#18171f"/><stop offset="0.5" stop-color="#0d0e18"/><stop offset="0.78" stop-color="#171a2a"/><stop offset="0.92" stop-color="#2c3348"/><stop offset="1" stop-color="#4a556e"/></linearGradient>
<linearGradient id="g127" x1="0" y1="0" x2="1" y2="0"><stop offset="0" stop-color="#d2cccf"/><stop offset="0.1" stop-color="#a8a4ab"/><stop offset="0.3" stop-color="#4a5060"/><stop offset="0.55" stop-color="#36435a"/><stop offset="1" stop-color="#5a6c8c"/></linearGradient>
<linearGradient id="g128" x1="0" y1="0" x2="1" y2="0"><stop offset="0" stop-color="#e8e4e4"/><stop offset="0.14" stop-color="#b0a8ac"/><stop offset="0.3" stop-color="#403c46"/><stop offset="0.5" stop-color="#1c1d28"/><stop offset="1" stop-color="#2a2e3e"/></linearGradient>
</defs>
<polygon points="1565,1725.5 2860.7,1725.5 2831.7,1754.5 1565,1754.5" fill="url(#g1)"/>
<polygon points="2860.7,1725.5 2860.7,1839 2831.7,1839 2831.7,1754.5" fill="url(#g2)"/>
<rect x="2821" y="1838.7" width="51" height="12" fill="url(#g3)"/>
<polygon points="2540,1802.9 2775,1802.9 2746,1831.9 2540,1831.9" fill="url(#g1)"/>
<polygon points="2775,1802.9 2775,1949 2746,1949 2746,1831.9" fill="url(#g2)"/>
<rect x="2735" y="1948.7" width="52" height="11.5" fill="url(#g4)"/>
<path d="M1351.2,1377 A38,38 0 0 1 1389.2,1339 L1389.2,1361 A16,16 0 0 0 1373.2,1377 Z" fill="url(#g8)"/>
<path d="M1570.7,1339 A38,38 0 0 1 1608.7,1377 L1586.7,1377 A16,16 0 0 0 1570.7,1361 Z" fill="url(#g9)"/>
<path d="M1586.7,1746.7 A36,36 0 0 0 1622.7,1782.7 L1622.7,1760.7 A14,14 0 0 1 1608.7,1746.7 Z" fill="url(#g10)"/>
<polygon points="1351.2,1480 1351.2,1376.5 1373.2,1376.5 1373.2,1480" fill="url(#g5)"/>
<polygon points="1388.7,1339 1571.2,1339 1571.2,1361 1388.7,1361" fill="url(#g6)"/>
<polygon points="1608.7,1376.5 1608.7,1747.2 1586.7,1747.2 1586.7,1376.5" fill="url(#g7)"/>
<polygon points="1622.2,1760.7 1680,1760.7 1680,1782.7 1622.2,1782.7" fill="url(#g6)"/>
<path d="M1453.8,1427.4 A38,38 0 0 1 1491.8,1389.4 L1491.8,1411.4 A16,16 0 0 0 1475.8,1427.4 Z" fill="url(#g11)"/>
<path d="M1611.4,1389.4 A38,38 0 0 1 1649.4,1427.4 L1627.4,1427.4 A16,16 0 0 0 1611.4,1411.4 Z" fill="url(#g12)"/>
<path d="M1627.4,1826.2 A36,36 0 0 0 1663.4,1862.2 L1663.4,1840.2 A14,14 0 0 1 1649.4,1826.2 Z" fill="url(#g13)"/>
<polygon points="1453.8,1480 1453.8,1426.9 1475.8,1426.9 1475.8,1480" fill="url(#g5)"/>
<polygon points="1491.3,1389.4 1611.9,1389.4 1611.9,1411.4 1491.3,1411.4" fill="url(#g6)"/>
<polygon points="1649.4,1426.9 1649.4,1826.7 1627.4,1826.7 1627.4,1426.9" fill="url(#g7)"/>
<polygon points="1662.9,1840.2 1682,1840.2 1682,1862.2 1662.9,1862.2" fill="url(#g6)"/>
<path d="M1705.5,1878 L1737.5,1905 L1699.5,2001 Q1698.5,2003 1696.5,2003 L1674.5,2003 Q1671.5,2002 1672.5,2000 Z" fill="url(#g14)"/>
<path d="M1908.7,1878 L1876.7,1905 L1911.7,2001 Q1912.7,2003 1914.7,2003 L1936.7,2003 Q1939.7,2002 1938.7,2000 Z" fill="url(#g14)"/>
<path d="M1699.5,1932 L1679.5,1996 L1691.5,1996 L1715.5,1938 Z" fill="#eef2f8" opacity="0.85"/>
<path d="M1902.7,1938 L1920.7,1996 L1930.7,1996 L1912.7,1934 Z" fill="#eef2f8" opacity="0.8"/>
<path d="M1677.5,1830 L1936.7,1830 L1936.7,1842 A129.6,117.5 0 0 1 1677.5,1842 Z" fill="url(#g15)"/>
<path d="M1685.5,1848 Q1807.1,1865 1908.7,1850 A111.6,96 0 0 1 1685.5,1848 Z" fill="url(#g16)"/>
<path d="M1689.5,1853 Q1777.1,1868 1844.5,1864 Q1817.5,1915 1752.5,1913 Q1699.5,1900 1689.5,1853 Z" fill="url(#g17)"/>
<path d="M1677.5,1462 L1677.5,1450 A129.6,107.5 0 0 1 1936.7,1450 L1936.7,1462 Z" fill="url(#g18)"/>
<path d="M1688.5,1423.4 A115.6,100 0 0 1 1907.2,1440 Q1796.5,1389 1688.5,1423.4 Z" fill="url(#g19)"/>
<path d="M1691.5,1420 A111.6,97 0 0 1 1795.1,1351 Q1845.5,1362 1863.5,1417 Q1777.1,1404 1691.5,1420 Z" fill="url(#g20)" opacity="0.8"/>
<path d="M1677.5,1456 Q1807.1,1428 1936.7,1456 L1936.7,1840 Q1807.1,1872 1677.5,1840 Z" fill="url(#g21)"/>
<path d="M1700.5,1476 Q1701.5,1466 1717.5,1463 Q1767.5,1456 1817.5,1462 Q1835.5,1465 1835.5,1476 L1835.5,1822 Q1834.5,1832 1817.5,1835 Q1767.5,1842 1717.5,1836 Q1700.5,1832 1700.5,1822 Z" fill="url(#g22)"/>
<path d="M2009,1878 L2041,1905 L2003,2001 Q2002,2003 2000,2003 L1978,2003 Q1975,2002 1976,2000 Z" fill="url(#g23)"/>
<path d="M2212.2,1878 L2180.2,1905 L2215.2,2001 Q2216.2,2003 2218.2,2003 L2240.2,2003 Q2243.2,2002 2242.2,2000 Z" fill="url(#g23)"/>
<path d="M2003,1932 L1983,1996 L1995,1996 L2019,1938 Z" fill="#eef2f8" opacity="0.85"/>
<path d="M2206.2,1938 L2224.2,1996 L2234.2,1996 L2216.2,1934 Z" fill="#eef2f8" opacity="0.8"/>
<path d="M1981,1830 L2240.2,1830 L2240.2,1842 A129.6,117.5 0 0 1 1981,1842 Z" fill="url(#g24)"/>
<path d="M1989,1848 Q2110.6,1865 2212.2,1850 A111.6,96 0 0 1 1989,1848 Z" fill="url(#g25)"/>
<path d="M1993,1853 Q2080.6,1868 2148,1864 Q2121,1915 2056,1913 Q2003,1900 1993,1853 Z" fill="url(#g26)"/>
<path d="M1981,1462 L1981,1450 A129.6,107.5 0 0 1 2240.2,1450 L2240.2,1462 Z" fill="url(#g27)"/>
<path d="M1992,1423.4 A115.6,100 0 0 1 2210.7,1440 Q2100,1389 1992,1423.4 Z" fill="url(#g28)"/>
<path d="M1995,1420 A111.6,97 0 0 1 2098.6,1351 Q2149,1362 2167,1417 Q2080.6,1404 1995,1420 Z" fill="url(#g29)" opacity="0.8"/>
<path d="M1981,1456 Q2110.6,1428 2240.2,1456 L2240.2,1840 Q2110.6,1872 1981,1840 Z" fill="url(#g30)"/>
<path d="M2004,1476 Q2005,1466 2021,1463 Q2071,1456 2121,1462 Q2139,1465 2139,1476 L2139,1822 Q2138,1832 2121,1835 Q2071,1842 2021,1836 Q2004,1832 2004,1822 Z" fill="url(#g31)"/>
<path d="M2312.9,1878 L2344.9,1905 L2306.9,2001 Q2305.9,2003 2303.9,2003 L2281.9,2003 Q2278.9,2002 2279.9,2000 Z" fill="url(#g32)"/>
<path d="M2516.1,1878 L2484.1,1905 L2519.1,2001 Q2520.1,2003 2522.1,2003 L2544.1,2003 Q2547.1,2002 2546.1,2000 Z" fill="url(#g32)"/>
<path d="M2306.9,1932 L2286.9,1996 L2298.9,1996 L2322.9,1938 Z" fill="#eef2f8" opacity="0.85"/>
<path d="M2510.1,1938 L2528.1,1996 L2538.1,1996 L2520.1,1934 Z" fill="#eef2f8" opacity="0.8"/>
<path d="M2284.9,1830 L2544.1,1830 L2544.1,1842 A129.6,117.5 0 0 1 2284.9,1842 Z" fill="url(#g33)"/>
<path d="M2292.9,1848 Q2414.5,1865 2516.1,1850 A111.6,96 0 0 1 2292.9,1848 Z" fill="url(#g34)"/>
<path d="M2296.9,1853 Q2384.5,1868 2451.9,1864 Q2424.9,1915 2359.9,1913 Q2306.9,1900 2296.9,1853 Z" fill="url(#g35)"/>
<path d="M2284.9,1462 L2284.9,1450 A129.6,107.5 0 0 1 2544.1,1450 L2544.1,1462 Z" fill="url(#g36)"/>
<path d="M2295.9,1423.4 A115.6,100 0 0 1 2514.6,1440 Q2403.9,1389 2295.9,1423.4 Z" fill="url(#g37)"/>
<path d="M2298.9,1420 A111.6,97 0 0 1 2402.5,1351 Q2452.9,1362 2470.9,1417 Q2384.5,1404 2298.9,1420 Z" fill="url(#g38)" opacity="0.8"/>
<path d="M2284.9,1456 Q2414.5,1428 2544.1,1456 L2544.1,1840 Q2414.5,1872 2284.9,1840 Z" fill="url(#g39)"/>
<path d="M2307.9,1476 Q2308.9,1466 2324.9,1463 Q2374.9,1456 2424.9,1462 Q2442.9,1465 2442.9,1476 L2442.9,1822 Q2441.9,1832 2424.9,1835 Q2374.9,1842 2324.9,1836 Q2307.9,1832 2307.9,1822 Z" fill="url(#g40)"/>
<path d="M380,1161 L485,1159 L485,1184 Q440,1190 380,1190 Z" fill="url(#g42)"/>
<path d="M380,1176 L485,1174 L485,1184 Q440,1190 380,1190 Z" fill="#b9c4d3" opacity="0.7"/>
<rect x="385" y="940" width="89.5" height="221" fill="url(#g41)"/>
<rect x="413.5" y="940" width="42" height="207" fill="#ffffff" opacity="0.3"/>
<path d="M385,1000 Q430,1002 474.5,1000" fill="none" stroke="#a9c3da" stroke-width="1"/>
<path d="M385,1063 Q430,1065 474.5,1063" fill="none" stroke="#a9c3da" stroke-width="1"/>
<path d="M385,1126 Q430,1128 474.5,1126" fill="none" stroke="#a9c3da" stroke-width="1"/>
<polygon points="385,940 385,883 405,883 478,940" fill="url(#g43)"/>
<polygon points="393,897 412,897 455,934 408,934" fill="#f2f9fc" opacity="0.85"/>
<rect x="385" y="881" width="25" height="12" fill="#e4ebf3"/>
<path d="M385,884 L410,884 L410,893 M398,884 L398,893" fill="none" stroke="#b4bec8" stroke-width="1"/>
<rect x="378.6" y="864" width="3.4" height="20" fill="#5f86a6"/>
<path d="M405,893 L480,943" fill="none" stroke="#5f86a6" stroke-width="6.5" stroke-linecap="round"/>
<path d="M423,904.5 L427,900 M452,924 L456,919.5" fill="none" stroke="#e6edf4" stroke-width="1.6"/>
<rect x="474.5" y="943" width="10.5" height="215" fill="url(#g44)"/><rect x="472.5" y="942.1" width="14.5" height="1.8" fill="#e8eef5"/><rect x="472.5" y="991.1" width="14.5" height="1.8" fill="#e8eef5"/><rect x="472.5" y="1040.1" width="14.5" height="1.8" fill="#e8eef5"/><rect x="472.5" y="1089.1" width="14.5" height="1.8" fill="#e8eef5"/><rect x="472.5" y="1138.1" width="14.5" height="1.8" fill="#e8eef5"/>
<path d="M73,1179 Q230,1174 385,1179 L385,1212 Q230,1222 73,1212 Z" fill="url(#g45)"/>
<path d="M73,1203 Q230,1211 385,1203 L385,1212 Q230,1222 73,1212 Z" fill="#b7c2d1" opacity="0.75"/>
<path d="M73,1179 Q230,1174 385,1179 Q230,1186 73,1179 Z" fill="#cfdbe3" opacity="0.9"/>
<path d="M91,881 L369.5,879 L369.5,1178 Q230,1184 91,1178 Z" fill="url(#g46)"/>
<path d="M110.7,880 L258,879 L258,1170 Q180,1171 110.7,1168 Z" fill="#f4fbff" opacity="0.38"/>
<path d="M110.7,880 L201,879 L201,1157 L110.7,1156 Z" fill="#ffffff" opacity="0.55"/>
<path d="M91,958 Q230,962 369.5,958" fill="none" stroke="#a5c0d8" stroke-width="1"/>
<path d="M91,1044 Q230,1048 369.5,1044" fill="none" stroke="#a5c0d8" stroke-width="1"/>
<path d="M91,1126 Q230,1130 369.5,1126" fill="none" stroke="#a5c0d8" stroke-width="1"/>
<polygon points="91,881 180,819.6 274,819.6 369.5,878.5" fill="url(#g47)"/>
<polygon points="117.5,870.5 185,825.3 224,825 205,869.6" fill="url(#g48)"/>
<rect x="247" y="794" width="29.7" height="24.6" fill="#dfe7f1"/>
<rect x="247" y="794" width="29.7" height="3" fill="#e9eff6"/>
<path d="M179.5,820.5 L179.5,800 Q230,794 282,799.5 L282,812" fill="none" stroke="#aab6c2" stroke-width="1.3"/>
<path d="M179.5,810 Q230,804 282,809" fill="none" stroke="#b4bfca" stroke-width="1"/>
<path d="M200,798 L200,819 M223,796.5 L223,819 M270,798 L270,808" fill="none" stroke="#b4bfca" stroke-width="1"/>
<rect x="238" y="772.7" width="5.6" height="46" fill="#5f86a6"/>
<path d="M274,814 L376,878" fill="none" stroke="#5f86a6" stroke-width="7" stroke-linecap="round"/>
<path d="M297.5,834.5 L303,827.5 M336.5,860.5 L342,853.5" fill="none" stroke="#e6edf4" stroke-width="1.6"/>
<rect x="369.5" y="880" width="15.3" height="298" fill="url(#g50)"/><rect x="367.5" y="880.1" width="19.3" height="1.8" fill="#e8eef5"/><rect x="367.5" y="947.1" width="19.3" height="1.8" fill="#e8eef5"/><rect x="367.5" y="1014.1" width="19.3" height="1.8" fill="#e8eef5"/><rect x="367.5" y="1082.1" width="19.3" height="1.8" fill="#e8eef5"/><rect x="367.5" y="1149.1" width="19.3" height="1.8" fill="#e8eef5"/>
<rect x="209" y="966.7" width="12.4" height="76.3" fill="#23629b"/><rect x="256.9" y="966.7" width="12.4" height="76.3" fill="#23629b"/><rect x="209" y="998.3" width="60.3" height="10.3" fill="#23629b"/><path d="M279.8,1022.1 C282.8,1019 287.1,1017.3 291.7,1017.3 C297.5,1017.3 301.6,1020.9 301.6,1026.3 C301.6,1032.2 297.5,1036.4 292.1,1041.8 L280.2,1053.7" fill="none" stroke="#23629b" stroke-width="6.6"/><path d="M278,1054.3 L307.2,1054.3" fill="none" stroke="#23629b" stroke-width="5.6"/>
<path d="M559.3,712 L559.3,645 Q559.3,628.2 576,628.2 L594,628.2 Q604,628.2 612,634 L651,664 Q657.6,669 657.6,678 L657.6,712 Z" fill="url(#g51)"/>
<path d="M616,648 L651,674 Q657.6,680 657.6,686 L657.6,712 L640,690 Q620,680 616,660 Z" fill="#47678a" opacity="0.55"/>
<rect x="561.5" y="632" width="43" height="48" rx="12" fill="url(#g52)" opacity="0.75"/>
<path d="M501,1118 L501,722 Q501,700 540,690 Q590,684 630,692 Q665.5,702 665.5,722 L665.5,1118 L501,1118 Z" fill="url(#g53)"/>
<path d="M508,1118 L508,730 Q508,700 540,697 Q572,700 572,730 L572,1118 Z" fill="url(#g54)"/>
<path d="M501,760.7 Q575,724.4 665.5,764.2" fill="none" stroke="#9fbcd6" stroke-width="0.9"/>
<path d="M501,822.2 Q575,784.5 665.5,824.9" fill="none" stroke="#9fbcd6" stroke-width="0.9"/>
<path d="M501,883.8 Q575,860.3 665.5,886.4" fill="none" stroke="#9fbcd6" stroke-width="0.9"/>
<path d="M501,947.1 Q575,934.9 665.5,948" fill="none" stroke="#9fbcd6" stroke-width="0.9"/>
<path d="M501,1011 Q575,1006 665.5,1011.5" fill="none" stroke="#9fbcd6" stroke-width="0.9"/>
<path d="M501,1075 Q575,1074 665.5,1075" fill="none" stroke="#9fbcd6" stroke-width="0.9"/>
<path d="M545.5,696 L545.5,668 Q545.5,663 551,663 L563,662.5 Q600,662 626,668 Q635,671 635,676 L635,693" fill="none" stroke="#b9c3cc" stroke-width="1.3"/>
<path d="M573,663 L573,690 M594,663.5 L594,688 M614,665.5 L614,689 M623,668 L623,691 M552,664 L552,694" fill="none" stroke="#c3ccd4" stroke-width="1"/>
<path d="M526.5,1112 L526.5,672 Q526.5,665.5 533,665.5 L545,665.5 M553,1112 L553,672" fill="none" stroke="#b4bec8" stroke-width="1.3"/>
<path d="M534.3,1118 L534.3,690 M545.2,1118 L545.2,690" fill="none" stroke="#aeb8c2" stroke-width="1.9"/>
<path d="M534.3,728.5 L553,728.5" fill="none" stroke="#b2bcc6" stroke-width="2"/>
<path d="M554,728.5 L567,728.5" fill="none" stroke="#d5dce4" stroke-width="1.6" opacity="0.7"/>
<path d="M534.3,761.5 L553,761.5" fill="none" stroke="#b2bcc6" stroke-width="2"/>
<path d="M554,761.5 L567,761.5" fill="none" stroke="#d5dce4" stroke-width="1.6" opacity="0.7"/>
<path d="M534.3,794.5 L553,794.5" fill="none" stroke="#b2bcc6" stroke-width="2"/>
<path d="M554,794.5 L567,794.5" fill="none" stroke="#d5dce4" stroke-width="1.6" opacity="0.7"/>
<path d="M534.3,827.5 L553,827.5" fill="none" stroke="#b2bcc6" stroke-width="2"/>
<path d="M554,827.5 L567,827.5" fill="none" stroke="#d5dce4" stroke-width="1.6" opacity="0.7"/>
<path d="M534.3,860.5 L553,860.5" fill="none" stroke="#b2bcc6" stroke-width="2"/>
<path d="M554,860.5 L567,860.5" fill="none" stroke="#d5dce4" stroke-width="1.6" opacity="0.7"/>
<path d="M534.3,893.5 L553,893.5" fill="none" stroke="#b2bcc6" stroke-width="2"/>
<path d="M554,893.5 L567,893.5" fill="none" stroke="#d5dce4" stroke-width="1.6" opacity="0.7"/>
<path d="M534.3,926.5 L553,926.5" fill="none" stroke="#b2bcc6" stroke-width="2"/>
<path d="M554,926.5 L567,926.5" fill="none" stroke="#d5dce4" stroke-width="1.6" opacity="0.7"/>
<path d="M534.3,959.5 L553,959.5" fill="none" stroke="#b2bcc6" stroke-width="2"/>
<path d="M554,959.5 L567,959.5" fill="none" stroke="#d5dce4" stroke-width="1.6" opacity="0.7"/>
<path d="M534.3,992.5 L553,992.5" fill="none" stroke="#b2bcc6" stroke-width="2"/>
<path d="M554,992.5 L567,992.5" fill="none" stroke="#d5dce4" stroke-width="1.6" opacity="0.7"/>
<path d="M534.3,1025.5 L553,1025.5" fill="none" stroke="#b2bcc6" stroke-width="2"/>
<path d="M554,1025.5 L567,1025.5" fill="none" stroke="#d5dce4" stroke-width="1.6" opacity="0.7"/>
<path d="M534.3,1058.5 L553,1058.5" fill="none" stroke="#b2bcc6" stroke-width="2"/>
<path d="M554,1058.5 L567,1058.5" fill="none" stroke="#d5dce4" stroke-width="1.6" opacity="0.7"/>
<path d="M534.3,1091.5 L553,1091.5" fill="none" stroke="#b2bcc6" stroke-width="2"/>
<path d="M554,1091.5 L567,1091.5" fill="none" stroke="#d5dce4" stroke-width="1.6" opacity="0.7"/>
<ellipse cx="539.5" cy="696.9" rx="14.2" ry="4.6" fill="none" stroke="#a4aeb8" stroke-width="1.8"/>
<ellipse cx="556" cy="696.9" rx="12" ry="3.6" fill="none" stroke="#d3dbe4" stroke-width="1" opacity="0.7"/>
<ellipse cx="539.5" cy="747.3" rx="14.2" ry="4.6" fill="none" stroke="#a4aeb8" stroke-width="1.8"/>
<ellipse cx="556" cy="747.3" rx="12" ry="3.6" fill="none" stroke="#d3dbe4" stroke-width="1" opacity="0.7"/>
<ellipse cx="539.5" cy="797.7" rx="14.2" ry="4.6" fill="none" stroke="#a4aeb8" stroke-width="1.8"/>
<ellipse cx="556" cy="797.7" rx="12" ry="3.6" fill="none" stroke="#d3dbe4" stroke-width="1" opacity="0.7"/>
<ellipse cx="539.5" cy="848.1" rx="14.2" ry="4.6" fill="none" stroke="#a4aeb8" stroke-width="1.8"/>
<ellipse cx="556" cy="848.1" rx="12" ry="3.6" fill="none" stroke="#d3dbe4" stroke-width="1" opacity="0.7"/>
<ellipse cx="539.5" cy="898.5" rx="14.2" ry="4.6" fill="none" stroke="#a4aeb8" stroke-width="1.8"/>
<ellipse cx="556" cy="898.5" rx="12" ry="3.6" fill="none" stroke="#d3dbe4" stroke-width="1" opacity="0.7"/>
<ellipse cx="539.5" cy="948.9" rx="14.2" ry="4.6" fill="none" stroke="#a4aeb8" stroke-width="1.8"/>
<ellipse cx="556" cy="948.9" rx="12" ry="3.6" fill="none" stroke="#d3dbe4" stroke-width="1" opacity="0.7"/>
<ellipse cx="539.5" cy="999.3" rx="14.2" ry="4.6" fill="none" stroke="#a4aeb8" stroke-width="1.8"/>
<ellipse cx="556" cy="999.3" rx="12" ry="3.6" fill="none" stroke="#d3dbe4" stroke-width="1" opacity="0.7"/>
<ellipse cx="539.5" cy="1049.7" rx="14.2" ry="4.6" fill="none" stroke="#a4aeb8" stroke-width="1.8"/>
<ellipse cx="556" cy="1049.7" rx="12" ry="3.6" fill="none" stroke="#d3dbe4" stroke-width="1" opacity="0.7"/>
<ellipse cx="539.5" cy="1100.1" rx="14.2" ry="4.6" fill="none" stroke="#a4aeb8" stroke-width="1.8"/>
<ellipse cx="556" cy="1100.1" rx="12" ry="3.6" fill="none" stroke="#d3dbe4" stroke-width="1" opacity="0.7"/>
<path d="M560,1118 L560,700 M567,1118 L567,700" fill="none" stroke="#d5dde6" stroke-width="1" opacity="0.7"/>
<path d="M745.5,985 L745.5,556 Q745.5,540 762,540 L780,540 L780,561 L772,561 Q767,561 767,566 L767,985 Z" fill="url(#g55)"/>
<rect x="743.5" y="596.8" width="36" height="2.4" rx="1" fill="#d9e2ec"/>
<rect x="743.5" y="642.2" width="36" height="2.4" rx="1" fill="#d9e2ec"/>
<rect x="743.5" y="687.7" width="36" height="2.4" rx="1" fill="#d9e2ec"/>
<rect x="743.5" y="733.2" width="36" height="2.4" rx="1" fill="#d9e2ec"/>
<rect x="743.5" y="778.6" width="36" height="2.4" rx="1" fill="#d9e2ec"/>
<rect x="743.5" y="824.1" width="36" height="2.4" rx="1" fill="#d9e2ec"/>
<rect x="743.5" y="869.5" width="36" height="2.4" rx="1" fill="#d9e2ec"/>
<rect x="743.5" y="915" width="36" height="2.4" rx="1" fill="#d9e2ec"/>
<rect x="743.5" y="960.4" width="36" height="2.4" rx="1" fill="#d9e2ec"/>
<polygon points="945,490 1003,517 1003,1015 945,1000" fill="url(#g56)"/>
<polygon points="945,946 1003,977 1003,1015 945,1000" fill="#b4c1d1"/>
<path d="M996,516 L1003,519 L1003,1009 L996,1006 Z" fill="#a7b4c7" opacity="0.9"/>
<rect x="778" y="488" width="172.5" height="500" fill="url(#g57)"/>
<rect x="778" y="488" width="172.5" height="11" fill="#a9b9cc"/>
<rect x="929.5" y="499" width="21" height="490" fill="#a9b8ca"/>
<rect x="778" y="499" width="151.5" height="450" fill="url(#g58)"/>
<polygon points="778,504 898,534.5 898,904 778,828" fill="url(#g59)"/>
<rect x="778" y="949" width="151.5" height="40" fill="#bfccdb"/>
<polygon points="774,453 950.5,453 950.5,490 774,490" fill="url(#g60)"/>
<polygon points="776,458 933,470 933,479 776,481" fill="#f2f6fa" opacity="0.9"/>
<polygon points="950.5,453 1006,490 1006,517.6 950.5,490" fill="url(#g61)"/>
<polygon points="950.5,453 1006,490 1006,494 950.5,457" fill="#d7e0ea"/>
<polygon points="1002,1004.5 1023.6,1004.5 1043.5,1009 1043.5,1166 1023.6,1177 1002,1177" fill="url(#g62)"/>
<polygon points="945,992 977,992 1002,1000 1002,1186 977,1198 945,1198" fill="url(#g62)"/>
<polygon points="908,982 945.5,989 945.5,1208 908,1221" fill="url(#g63)"/>
<rect x="535" y="982" width="373" height="239" fill="url(#g64)"/>
<polygon points="535,982 908,982 908,1200 880,1200 846,1062 809,1062" fill="url(#g65)"/>
<polygon points="846,1062 908,1062 908,1221 868,1221" fill="url(#g66)"/>
<rect x="535" y="1206.5" width="373" height="14.5" fill="#bfc9d7" opacity="0.85"/>
<polygon points="625,1040 629.6,1026 648,1221 625,1221" fill="url(#g67)"/>
<polygon points="846,1040 850.5,1026 869,1221 846,1221" fill="url(#g67)"/>
<rect x="604.3" y="1066" width="20.5" height="155.5" fill="url(#g68)"/>
<polygon points="588,1064 630,1065.5 625,1066 590,1066" fill="#f5f8fc"/>
<polygon points="597,1026 629.6,1026 619,1064.6 592,1063" fill="url(#g69)"/>
<polygon points="629.6,1026 629.6,1064 619,1064.6" fill="#9fa9b5"/>
<rect x="825.6" y="1066" width="20.5" height="155.5" fill="url(#g68)"/>
<polygon points="809.3,1064 851.3,1065.5 846.3,1066 811.3,1066" fill="#f5f8fc"/>
<polygon points="818.3,1026 850.9,1026 840.3,1064.6 813.3,1063" fill="url(#g69)"/>
<polygon points="850.9,1026 850.9,1064 840.3,1064.6" fill="#9fa9b5"/>
<path d="M1214.5,1105 A35,35 0 0 0 1249.5,1070 L1220.5,1070 A6,6 0 0 1 1214.5,1076 Z" fill="url(#g71)"/>
<path d="M1220.5,979 A35,35 0 0 1 1255.5,944 L1255.5,973 A6,6 0 0 0 1249.5,979 Z" fill="url(#g72)"/>
<polygon points="1043.5,1076 1215,1076 1215,1105 1043.5,1105" fill="url(#g1)"/>
<polygon points="1220.5,1070.5 1220.5,978.5 1249.5,978.5 1249.5,1070.5" fill="url(#g70)"/>
<polygon points="1255,944 2262,944 2262,973 1255,973" fill="url(#g1)"/>
<path d="M2237,1050 L2237,563 Q2237,552.5 2248,552.5 L2260,552.5 L2260,566 L2255,566 Q2251.5,566 2251.5,570 L2251.5,1050 Z" fill="url(#g73)"/>
<rect x="2235.5" y="591.7" width="25" height="1.8" fill="#dfe7f0"/>
<rect x="2235.5" y="623.7" width="25" height="1.8" fill="#dfe7f0"/>
<rect x="2235.5" y="655.7" width="25" height="1.8" fill="#dfe7f0"/>
<rect x="2235.5" y="687.7" width="25" height="1.8" fill="#dfe7f0"/>
<rect x="2235.5" y="719.7" width="25" height="1.8" fill="#dfe7f0"/>
<rect x="2235.5" y="751.7" width="25" height="1.8" fill="#dfe7f0"/>
<rect x="2235.5" y="783.7" width="25" height="1.8" fill="#dfe7f0"/>
<rect x="2235.5" y="815.7" width="25" height="1.8" fill="#dfe7f0"/>
<rect x="2235.5" y="847.7" width="25" height="1.8" fill="#dfe7f0"/>
<rect x="2235.5" y="879.7" width="25" height="1.8" fill="#dfe7f0"/>
<rect x="2235.5" y="911.7" width="25" height="1.8" fill="#dfe7f0"/>
<rect x="2235.5" y="943.7" width="25" height="1.8" fill="#dfe7f0"/>
<polygon points="2675.5,513.7 2711,535 2711,1059 2675.5,1059" fill="url(#g74)"/>
<rect x="2259.4" y="513.7" width="416.2" height="545.5" fill="url(#g75)"/>
<rect x="2259.4" y="516.5" width="416.2" height="8" fill="#aebccd"/>
<rect x="2636.5" y="524" width="22.5" height="535" fill="#c6d1dd"/>
<rect x="2659" y="524" width="16.5" height="535" fill="#acb9ca"/>
<polygon points="2259.4,527 2636.5,547.5 2636.5,784 2259.4,721.5" fill="url(#g76)"/>
<polygon points="2259.4,721.5 2637.5,784 2637.5,1059 2259.4,1059" fill="url(#g77)"/>
<rect x="2259.4" y="838.5" width="378.5" height="220.7" fill="url(#g78)"/>
<rect x="2256" y="490.5" width="419.5" height="26" fill="url(#g79)"/>
<polygon points="2258,493.5 2662,502 2662,509 2258,510.5" fill="#eef3f8" opacity="0.9"/>
<polygon points="2675.5,490.5 2713.6,514.7 2713.6,536 2675.5,516.5" fill="#bfcbd9"/>
<polygon points="2675.5,490.5 2713.6,514.7 2713.6,517 2675.5,493" fill="#d3dde8"/>
<path d="M1157.5,1157.2 A35,35 0 0 0 1192.5,1122.2 L1163.5,1122.2 A6,6 0 0 1 1157.5,1128.2 Z" fill="url(#g81)"/>
<path d="M1163.5,1035.5 A35,35 0 0 1 1198.5,1000.5 L1198.5,1029.5 A6,6 0 0 0 1192.5,1035.5 Z" fill="url(#g82)"/>
<polygon points="945.5,1128.2 1158,1128.2 1158,1157.2 945.5,1157.2" fill="url(#g80)"/>
<polygon points="1163.5,1122.7 1163.5,1035 1192.5,1035 1192.5,1122.7" fill="url(#g2)"/>
<polygon points="1198,1000.5 1630,1000.5 1630,1029.5 1198,1029.5" fill="url(#g80)"/>
<rect x="1294.7" y="931.1" width="6.3" height="12" rx="0.9" fill="#5f7d9c"/><rect x="1296" y="933.1" width="3.7" height="8" rx="0.8" fill="#9fb2cd"/><rect x="1312" y="931.1" width="6.3" height="12" rx="0.9" fill="#5f7d9c"/><rect x="1313.3" y="933.1" width="3.7" height="8" rx="0.8" fill="#9fb2cd"/><rect x="1294.7" y="953.8" width="6.3" height="12" rx="0.9" fill="#5f7d9c"/><rect x="1296" y="955.8" width="3.7" height="8" rx="0.8" fill="#9fb2cd"/><rect x="1312" y="953.8" width="6.3" height="12" rx="0.9" fill="#5f7d9c"/><rect x="1313.3" y="955.8" width="3.7" height="8" rx="0.8" fill="#9fb2cd"/><rect x="1294.7" y="976.5" width="6.3" height="12" rx="0.9" fill="#5f7d9c"/><rect x="1296" y="978.5" width="3.7" height="8" rx="0.8" fill="#9fb2cd"/><rect x="1312" y="976.5" width="6.3" height="12" rx="0.9" fill="#5f7d9c"/><rect x="1313.3" y="978.5" width="3.7" height="8" rx="0.8" fill="#9fb2cd"/><rect x="1300" y="930.3" width="13" height="59" rx="1" fill="url(#g83)"/><rect x="1306" y="930.3" width="1" height="59" fill="#4b5b6c"/>
<rect x="1276.5" y="986.3" width="6.3" height="12" rx="0.9" fill="#5f7d9c"/><rect x="1277.8" y="988.3" width="3.7" height="8" rx="0.8" fill="#9fb2cd"/><rect x="1293.8" y="986.3" width="6.3" height="12" rx="0.9" fill="#5f7d9c"/><rect x="1295.1" y="988.3" width="3.7" height="8" rx="0.8" fill="#9fb2cd"/><rect x="1276.5" y="1009" width="6.3" height="12" rx="0.9" fill="#5f7d9c"/><rect x="1277.8" y="1011" width="3.7" height="8" rx="0.8" fill="#9fb2cd"/><rect x="1293.8" y="1009" width="6.3" height="12" rx="0.9" fill="#5f7d9c"/><rect x="1295.1" y="1011" width="3.7" height="8" rx="0.8" fill="#9fb2cd"/><rect x="1276.5" y="1031.7" width="6.3" height="12" rx="0.9" fill="#5f7d9c"/><rect x="1277.8" y="1033.7" width="3.7" height="8" rx="0.8" fill="#9fb2cd"/><rect x="1293.8" y="1031.7" width="6.3" height="12" rx="0.9" fill="#5f7d9c"/><rect x="1295.1" y="1033.7" width="3.7" height="8" rx="0.8" fill="#9fb2cd"/><rect x="1281.8" y="985.5" width="13" height="59" rx="1" fill="url(#g83)"/><rect x="1287.8" y="985.5" width="1" height="59" fill="#4b5b6c"/>
<polygon points="1725,1000.5 2530,1000.5 2530,1029.5 1725,1029.5" fill="url(#g1)"/>
<path d="M2704,712 L2704,634 Q2704,620 2718,620 L2741,620 Q2755,620 2755,634 L2755,712 Z" fill="url(#g85)"/>
<rect x="2708" y="627" width="36" height="67" rx="10" fill="url(#g86)"/>
<rect x="2779" y="596.5" width="10.6" height="116" rx="3" fill="url(#g87)"/>
<ellipse cx="2727.7" cy="939" rx="237.7" ry="234.7" fill="url(#g88)"/>
<g clip-path="url(#c89)">
<path d="M2480,700 L2893,700 L2893,760 Q2866,790 2836,843 Q2800,893 2736,934 Q2678,962 2606,973 Q2540,975 2500,930 Z" fill="#ffffff" opacity="0.22"/>
<polygon points="2738,1000 2746,1000 2762,1180 2741,1180" fill="url(#g90)"/>
<polygon points="2706,1000 2713,1000 2713,1180 2705,1180" fill="url(#g90)"/>
<polygon points="2600,950 2609,950 2603,1180 2590,1180" fill="url(#g91)"/>
<ellipse cx="2653" cy="840" rx="132" ry="121" fill="url(#g92)"/>
</g>
<path d="M2562,765.5 Q2728.5,742.5 2895,765.5" fill="none" stroke="#bcc4ce" stroke-width="5"/>
<path d="M2562,764.7 Q2728.5,741.7 2895,764.7" fill="none" stroke="#e6ebf1" stroke-width="2.8"/>
<path d="M2491,887 Q2727.75,861 2964.5,887" fill="none" stroke="#bcc4ce" stroke-width="5.5"/>
<path d="M2491,886.2 Q2727.75,860.2 2964.5,886.2" fill="none" stroke="#e6ebf1" stroke-width="3.3"/>
<path d="M2649,717 L2649,697 Q2652,688 2680,681 Q2728,671 2778,681 Q2803,688 2806.5,697 L2806.5,717" fill="none" stroke="#aab6c0" stroke-width="1.7"/>
<path d="M2665,686 L2665,708 M2727,676 L2727,705 M2758,678 L2758,706 M2792,687 L2792,711" fill="none" stroke="#b4bfc8" stroke-width="1.4"/>
<path d="M2489.6,992.3 L2563.4,1110.6" fill="none" stroke="#d6deea" stroke-width="1.8"/>
<path d="M2574.7,1002.8 L2481,1093.9" fill="none" stroke="#d6deea" stroke-width="1.8"/>
<path d="M2596,1003.6 L2712.4,1125.7" fill="none" stroke="#d6deea" stroke-width="1.8"/>
<path d="M2713.8,1009.3 L2590.3,1116.3" fill="none" stroke="#d6deea" stroke-width="1.8"/>
<path d="M2739.4,1009.3 L2862.9,1115.7" fill="none" stroke="#d6deea" stroke-width="1.8"/>
<path d="M2854.3,1003.6 L2742.2,1124.3" fill="none" stroke="#d6deea" stroke-width="1.8"/>
<path d="M2881.3,1002.2 L2972.1,1093.9" fill="none" stroke="#d6deea" stroke-width="1.8"/>
<path d="M2963.6,992.3 L2891.2,1110.6" fill="none" stroke="#d6deea" stroke-width="1.8"/>
<polygon points="2488.1,980.9 2574.7,990.8 2574.7,1004.8 2488.1,994.3" fill="url(#g95)"/>
<path d="M2492.1,983.9 L2570.7,993.8" fill="none" stroke="#f4f7fa" stroke-width="5"/>
<polygon points="2594.6,992.3 2715.2,996.5 2715.2,1011.3 2594.6,1005.6" fill="url(#g95)"/>
<path d="M2598.6,995.3 L2711.2,999.5" fill="none" stroke="#f4f7fa" stroke-width="5"/>
<polygon points="2737.9,996.5 2854.3,992.3 2854.3,1005.6 2737.9,1011.3" fill="url(#g95)"/>
<path d="M2741.9,999.5 L2850.3,995.3" fill="none" stroke="#f4f7fa" stroke-width="5"/>
<polygon points="2879.9,989.4 2965.1,980.9 2965.1,994.3 2879.9,1004.2" fill="url(#g95)"/>
<path d="M2883.9,992.4 L2961.1,983.9" fill="none" stroke="#f4f7fa" stroke-width="5"/>
<polygon points="2478.2,1093.9 2563.4,1110.6 2563.4,1124.8 2478.2,1107.8" fill="url(#g95)"/>
<path d="M2482.2,1096.9 L2559.4,1113.6" fill="none" stroke="#f4f7fa" stroke-width="5"/>
<polygon points="2588.9,1116.3 2712.4,1125.7 2712.4,1140.5 2588.9,1129.1" fill="url(#g95)"/>
<path d="M2592.9,1119.3 L2708.4,1128.7" fill="none" stroke="#f4f7fa" stroke-width="5"/>
<polygon points="2740.8,1124.3 2862.9,1115.7 2862.9,1129.1 2740.8,1139" fill="url(#g95)"/>
<path d="M2744.8,1127.3 L2858.9,1118.7" fill="none" stroke="#f4f7fa" stroke-width="5"/>
<polygon points="2889.8,1110.6 2972.1,1093.9 2972.1,1107.8 2889.8,1124.8" fill="url(#g95)"/>
<path d="M2893.8,1113.6 L2968.1,1096.9" fill="none" stroke="#f4f7fa" stroke-width="5"/>
<path d="M2472.5,954 Q2473.5,930 2487,930 Q2496.6,931 2496.6,956 L2479.6,1154 L2448.4,1154 Z" fill="url(#g93)"/>
<ellipse cx="2486.1" cy="943" rx="9.5" ry="11" fill="#d3dde8" stroke="#c0ccd9" stroke-width="0.8" transform="rotate(14 2484.6 943)"/>
<path d="M2481.6,976 L2461,1140" fill="none" stroke="#e8edf5" stroke-width="9" stroke-linecap="round" opacity="0.9"/>
<path d="M2442.9,1155 Q2464,1151 2485.1,1155 L2485.1,1177 Q2464,1184 2442.9,1177 Z" fill="url(#g94)"/>
<path d="M2442.9,1174 Q2464,1180 2485.1,1174 L2485.1,1177 Q2464,1184 2442.9,1177 Z" fill="#b9c5d5" opacity="0.8"/>
<path d="M2579,953 Q2580,928.4 2594,928.4 Q2604.5,929.4 2604.5,955 L2590,1185 L2556,1185 Z" fill="url(#g93)"/>
<ellipse cx="2593.2" cy="941.4" rx="10.2" ry="11" fill="#d3dde8" stroke="#c0ccd9" stroke-width="0.8" transform="rotate(14 2591.8 941.4)"/>
<path d="M2588.8,975 L2570,1171" fill="none" stroke="#e8edf5" stroke-width="9" stroke-linecap="round" opacity="0.9"/>
<path d="M2550.5,1186 Q2573,1182 2595.5,1186 L2595.5,1208 Q2573,1215 2550.5,1208 Z" fill="url(#g94)"/>
<path d="M2550.5,1205 Q2573,1211 2595.5,1205 L2595.5,1208 Q2573,1215 2550.5,1208 Z" fill="#b9c5d5" opacity="0.8"/>
<path d="M2715,954 Q2716,930 2725.6,930 Q2736.5,931 2736.5,956 L2742,1199.5 L2711,1199.5 Z" fill="url(#g93)"/>
<ellipse cx="2724.2" cy="943" rx="8.2" ry="11" fill="#d3dde8" stroke="#c0ccd9" stroke-width="0.8" transform="rotate(-14 2725.8 943)"/>
<path d="M2722.8,976 L2723.5,1185.5" fill="none" stroke="#e8edf5" stroke-width="9" stroke-linecap="round" opacity="0.9"/>
<path d="M2705.5,1200.5 Q2726.5,1196.5 2747.5,1200.5 L2747.5,1222.5 Q2726.5,1229.5 2705.5,1222.5 Z" fill="url(#g94)"/>
<path d="M2705.5,1219.5 Q2726.5,1225.5 2747.5,1219.5 L2747.5,1222.5 Q2726.5,1229.5 2705.5,1222.5 Z" fill="#b9c5d5" opacity="0.8"/>
<path d="M2852,953 Q2853,928.4 2858.5,928.4 Q2875.6,929.4 2875.6,955 L2897,1185 L2864,1185 Z" fill="url(#g93)"/>
<ellipse cx="2862.3" cy="941.4" rx="9.3" ry="11" fill="#d3dde8" stroke="#c0ccd9" stroke-width="0.8" transform="rotate(-14 2863.8 941.4)"/>
<path d="M2860.8,975 L2877.5,1171" fill="none" stroke="#e8edf5" stroke-width="9" stroke-linecap="round" opacity="0.9"/>
<path d="M2858.5,1186 Q2880.5,1182 2902.5,1186 L2902.5,1208 Q2880.5,1215 2858.5,1208 Z" fill="url(#g94)"/>
<path d="M2858.5,1205 Q2880.5,1211 2902.5,1205 L2902.5,1208 Q2880.5,1215 2858.5,1208 Z" fill="#b9c5d5" opacity="0.8"/>
<path d="M2958.8,956 Q2959.8,930 2963.5,930 Q2980.7,931 2980.7,958 L3004.8,1154 L2976.4,1154 Z" fill="url(#g93)"/>
<ellipse cx="2968.2" cy="943" rx="8.4" ry="11" fill="#d3dde8" stroke="#c0ccd9" stroke-width="0.8" transform="rotate(-14 2969.8 943)"/>
<path d="M2966.8,978 L2987.6,1140" fill="none" stroke="#e8edf5" stroke-width="9" stroke-linecap="round" opacity="0.9"/>
<path d="M2970.9,1155 Q2990.6,1151 3010.3,1155 L3010.3,1177 Q2990.6,1184 2970.9,1177 Z" fill="url(#g94)"/>
<path d="M2970.9,1174 Q2990.6,1180 3010.3,1174 L3010.3,1177 Q2990.6,1184 2970.9,1177 Z" fill="#b9c5d5" opacity="0.8"/>
<rect x="1624" y="1000.3" width="106" height="31" fill="url(#g96)"/><rect x="1600.8" y="981.6" width="7" height="14" rx="0.9" fill="#5f7d9c"/><rect x="1602" y="983.6" width="4.4" height="10" rx="0.8" fill="#9fb2cd"/><rect x="1623.2" y="981.6" width="7" height="14" rx="0.9" fill="#5f7d9c"/><rect x="1624.5" y="983.6" width="4.4" height="10" rx="0.8" fill="#9fb2cd"/><rect x="1600.8" y="1008.8" width="7" height="14" rx="0.9" fill="#5f7d9c"/><rect x="1602" y="1010.8" width="4.4" height="10" rx="0.8" fill="#9fb2cd"/><rect x="1623.2" y="1008.8" width="7" height="14" rx="0.9" fill="#5f7d9c"/><rect x="1624.5" y="1010.8" width="4.4" height="10" rx="0.8" fill="#9fb2cd"/><rect x="1600.8" y="1036" width="7" height="14" rx="0.9" fill="#5f7d9c"/><rect x="1602" y="1038" width="4.4" height="10" rx="0.8" fill="#9fb2cd"/><rect x="1623.2" y="1036" width="7" height="14" rx="0.9" fill="#5f7d9c"/><rect x="1624.5" y="1038" width="4.4" height="10" rx="0.8" fill="#9fb2cd"/><rect x="1606.8" y="980.8" width="17.5" height="70" rx="1" fill="url(#g83)"/><rect x="1615" y="980.8" width="1" height="70" fill="#4b5b6c"/><rect x="1723.8" y="981.6" width="7" height="14" rx="0.9" fill="#5f7d9c"/><rect x="1725" y="983.6" width="4.4" height="10" rx="0.8" fill="#9fb2cd"/><rect x="1746.2" y="981.6" width="7" height="14" rx="0.9" fill="#5f7d9c"/><rect x="1747.5" y="983.6" width="4.4" height="10" rx="0.8" fill="#9fb2cd"/><rect x="1723.8" y="1008.8" width="7" height="14" rx="0.9" fill="#5f7d9c"/><rect x="1725" y="1010.8" width="4.4" height="10" rx="0.8" fill="#9fb2cd"/><rect x="1746.2" y="1008.8" width="7" height="14" rx="0.9" fill="#5f7d9c"/><rect x="1747.5" y="1010.8" width="4.4" height="10" rx="0.8" fill="#9fb2cd"/><rect x="1723.8" y="1036" width="7" height="14" rx="0.9" fill="#5f7d9c"/><rect x="1725" y="1038" width="4.4" height="10" rx="0.8" fill="#9fb2cd"/><rect x="1746.2" y="1036" width="7" height="14" rx="0.9" fill="#5f7d9c"/><rect x="1747.5" y="1038" width="4.4" height="10" rx="0.8" fill="#9fb2cd"/><rect x="1729.8" y="980.8" width="17.5" height="70" rx="1" fill="url(#g83)"/><rect x="1738" y="980.8" width="1" height="70" fill="#4b5b6c"/><rect x="1672.8" y="881.8" width="8.4" height="26" fill="url(#g104)"/><rect x="1636.7" y="889.8" width="80.6" height="10" rx="2.5" fill="url(#g97)"/><rect x="1662.3" y="907.1" width="29.4" height="13" rx="2" fill="url(#g98)"/><rect x="1669" y="919.3" width="16" height="28" fill="#9ba6b4"/><path d="M1670,943.8 L1658,944.8 Q1656,949.8 1659,953.3 L1669,957.8 Z" fill="#a9b3bf"/><circle cx="1660.5" cy="950" r="2.4" fill="#e9edf2" stroke="#8893a0" stroke-width="0.8"/><rect x="1659.1" y="925.3" width="3.4" height="22" fill="#2c2c30"/><rect x="1654.3" y="927.8" width="12.4" height="5" rx="0.8" fill="#aeb7c2"/><rect x="1656.7" y="928.6" width="7.6" height="3" rx="0.5" fill="#cdd3da"/><path d="M1684,943.8 L1696,944.8 Q1698,949.8 1695,953.3 L1685,957.8 Z" fill="#a9b3bf"/><circle cx="1693.5" cy="950" r="2.4" fill="#e9edf2" stroke="#8893a0" stroke-width="0.8"/><rect x="1691.5" y="925.3" width="3.4" height="22" fill="#2c2c30"/><rect x="1687.3" y="927.8" width="12.4" height="5" rx="0.8" fill="#aeb7c2"/><rect x="1689.7" y="928.6" width="7.6" height="3" rx="0.5" fill="#cdd3da"/><rect x="1653" y="932.6" width="48" height="7" rx="0.8" fill="#a9b3bf"/><rect x="1669" y="931.8" width="16" height="16" fill="#9ba6b4"/><rect x="1669" y="946.8" width="16" height="21" fill="url(#g99)"/><path d="M1662.2,981.8 A14.8,15.5 0 0 1 1691.8,981.8 Z" fill="url(#g103)"/><path d="M1658,991.8 L1696,991.8 L1694.3,1019.8 Q1694,1038.3 1677,1038.6 Q1660,1038.3 1659.7,1019.8 Z" fill="url(#g101)"/><path d="M1658,991.8 L1696,991.8 L1694.3,1019.8 Q1694,1038.3 1677,1038.6 Q1660,1038.3 1659.7,1019.8 Z" fill="url(#g102)"/><rect x="1647.4" y="974.8" width="12.6" height="5.5" rx="0.8" fill="#a3abb6"/><rect x="1649.7" y="975.9" width="8" height="3.4" rx="0.6" fill="#cdd2d8"/><rect x="1647.4" y="992.3" width="12.6" height="5.5" rx="0.8" fill="#9fa7b2"/><rect x="1649.7" y="993.4" width="8" height="3.3" rx="0.6" fill="#c8cdd4"/><rect x="1671.1" y="974.8" width="12.6" height="5.5" rx="0.8" fill="#a3abb6"/><rect x="1673.4" y="975.9" width="8" height="3.4" rx="0.6" fill="#cdd2d8"/><rect x="1671.1" y="992.3" width="12.6" height="5.5" rx="0.8" fill="#9fa7b2"/><rect x="1673.4" y="993.4" width="8" height="3.3" rx="0.6" fill="#c8cdd4"/><rect x="1694.2" y="974.8" width="12.6" height="5.5" rx="0.8" fill="#a3abb6"/><rect x="1696.5" y="975.9" width="8" height="3.4" rx="0.6" fill="#cdd2d8"/><rect x="1694.2" y="992.3" width="12.6" height="5.5" rx="0.8" fill="#9fa7b2"/><rect x="1696.5" y="993.4" width="8" height="3.3" rx="0.6" fill="#c8cdd4"/><rect x="1647" y="979.8" width="60" height="13" rx="1" fill="url(#g100)"/><rect x="1647" y="985.5" width="60" height="1.3" fill="#7d8793"/>
<rect x="1887.5" y="945.8" width="106" height="31" fill="url(#g96)"/><rect x="1864.2" y="927.1" width="7" height="14" rx="0.9" fill="#5f7d9c"/><rect x="1865.5" y="929.1" width="4.4" height="10" rx="0.8" fill="#9fb2cd"/><rect x="1886.8" y="927.1" width="7" height="14" rx="0.9" fill="#5f7d9c"/><rect x="1888" y="929.1" width="4.4" height="10" rx="0.8" fill="#9fb2cd"/><rect x="1864.2" y="954.3" width="7" height="14" rx="0.9" fill="#5f7d9c"/><rect x="1865.5" y="956.3" width="4.4" height="10" rx="0.8" fill="#9fb2cd"/><rect x="1886.8" y="954.3" width="7" height="14" rx="0.9" fill="#5f7d9c"/><rect x="1888" y="956.3" width="4.4" height="10" rx="0.8" fill="#9fb2cd"/><rect x="1864.2" y="981.5" width="7" height="14" rx="0.9" fill="#5f7d9c"/><rect x="1865.5" y="983.5" width="4.4" height="10" rx="0.8" fill="#9fb2cd"/><rect x="1886.8" y="981.5" width="7" height="14" rx="0.9" fill="#5f7d9c"/><rect x="1888" y="983.5" width="4.4" height="10" rx="0.8" fill="#9fb2cd"/><rect x="1870.2" y="926.3" width="17.5" height="70" rx="1" fill="url(#g83)"/><rect x="1878.5" y="926.3" width="1" height="70" fill="#4b5b6c"/><rect x="1987.2" y="927.1" width="7" height="14" rx="0.9" fill="#5f7d9c"/><rect x="1988.5" y="929.1" width="4.4" height="10" rx="0.8" fill="#9fb2cd"/><rect x="2009.8" y="927.1" width="7" height="14" rx="0.9" fill="#5f7d9c"/><rect x="2011" y="929.1" width="4.4" height="10" rx="0.8" fill="#9fb2cd"/><rect x="1987.2" y="954.3" width="7" height="14" rx="0.9" fill="#5f7d9c"/><rect x="1988.5" y="956.3" width="4.4" height="10" rx="0.8" fill="#9fb2cd"/><rect x="2009.8" y="954.3" width="7" height="14" rx="0.9" fill="#5f7d9c"/><rect x="2011" y="956.3" width="4.4" height="10" rx="0.8" fill="#9fb2cd"/><rect x="1987.2" y="981.5" width="7" height="14" rx="0.9" fill="#5f7d9c"/><rect x="1988.5" y="983.5" width="4.4" height="10" rx="0.8" fill="#9fb2cd"/><rect x="2009.8" y="981.5" width="7" height="14" rx="0.9" fill="#5f7d9c"/><rect x="2011" y="983.5" width="4.4" height="10" rx="0.8" fill="#9fb2cd"/><rect x="1993.2" y="926.3" width="17.5" height="70" rx="1" fill="url(#g83)"/><rect x="2001.5" y="926.3" width="1" height="70" fill="#4b5b6c"/><rect x="1936.3" y="827.3" width="8.4" height="26" fill="url(#g104)"/><rect x="1900.2" y="835.3" width="80.6" height="10" rx="2.5" fill="url(#g97)"/><rect x="1925.8" y="852.6" width="29.4" height="13" rx="2" fill="url(#g98)"/><rect x="1932.5" y="864.8" width="16" height="28" fill="#9ba6b4"/><path d="M1933.5,889.3 L1921.5,890.3 Q1919.5,895.3 1922.5,898.8 L1932.5,903.3 Z" fill="#a9b3bf"/><circle cx="1924" cy="895.5" r="2.4" fill="#e9edf2" stroke="#8893a0" stroke-width="0.8"/><rect x="1922.6" y="870.8" width="3.4" height="22" fill="#2c2c30"/><rect x="1917.8" y="873.3" width="12.4" height="5" rx="0.8" fill="#aeb7c2"/><rect x="1920.2" y="874.1" width="7.6" height="3" rx="0.5" fill="#cdd3da"/><path d="M1947.5,889.3 L1959.5,890.3 Q1961.5,895.3 1958.5,898.8 L1948.5,903.3 Z" fill="#a9b3bf"/><circle cx="1957" cy="895.5" r="2.4" fill="#e9edf2" stroke="#8893a0" stroke-width="0.8"/><rect x="1955" y="870.8" width="3.4" height="22" fill="#2c2c30"/><rect x="1950.8" y="873.3" width="12.4" height="5" rx="0.8" fill="#aeb7c2"/><rect x="1953.2" y="874.1" width="7.6" height="3" rx="0.5" fill="#cdd3da"/><rect x="1916.5" y="878.1" width="48" height="7" rx="0.8" fill="#a9b3bf"/><rect x="1932.5" y="877.3" width="16" height="16" fill="#9ba6b4"/><rect x="1932.5" y="892.3" width="16" height="21" fill="url(#g99)"/><path d="M1925.7,927.3 A14.8,15.5 0 0 1 1955.3,927.3 Z" fill="url(#g103)"/><path d="M1921.5,937.3 L1959.5,937.3 L1957.8,965.3 Q1957.5,983.8 1940.5,984.1 Q1923.5,983.8 1923.2,965.3 Z" fill="url(#g101)"/><path d="M1921.5,937.3 L1959.5,937.3 L1957.8,965.3 Q1957.5,983.8 1940.5,984.1 Q1923.5,983.8 1923.2,965.3 Z" fill="url(#g102)"/><rect x="1910.9" y="920.3" width="12.6" height="5.5" rx="0.8" fill="#a3abb6"/><rect x="1913.2" y="921.4" width="8" height="3.4" rx="0.6" fill="#cdd2d8"/><rect x="1910.9" y="937.8" width="12.6" height="5.5" rx="0.8" fill="#9fa7b2"/><rect x="1913.2" y="938.9" width="8" height="3.3" rx="0.6" fill="#c8cdd4"/><rect x="1934.6" y="920.3" width="12.6" height="5.5" rx="0.8" fill="#a3abb6"/><rect x="1936.9" y="921.4" width="8" height="3.4" rx="0.6" fill="#cdd2d8"/><rect x="1934.6" y="937.8" width="12.6" height="5.5" rx="0.8" fill="#9fa7b2"/><rect x="1936.9" y="938.9" width="8" height="3.3" rx="0.6" fill="#c8cdd4"/><rect x="1957.7" y="920.3" width="12.6" height="5.5" rx="0.8" fill="#a3abb6"/><rect x="1960" y="921.4" width="8" height="3.4" rx="0.6" fill="#cdd2d8"/><rect x="1957.7" y="937.8" width="12.6" height="5.5" rx="0.8" fill="#9fa7b2"/><rect x="1960" y="938.9" width="8" height="3.3" rx="0.6" fill="#c8cdd4"/><rect x="1910.5" y="925.3" width="60" height="13" rx="1" fill="url(#g100)"/><rect x="1910.5" y="931" width="60" height="1.3" fill="#7d8793"/>
<rect x="1507.5" y="937.5" width="13" height="15" rx="1" fill="url(#g105)"/><rect x="1507.5" y="940" width="13" height="0.9" fill="#2a4362" opacity="0.6"/><rect x="1507.5" y="942.6" width="13" height="0.9" fill="#2a4362" opacity="0.6"/><rect x="1507.5" y="945.2" width="13" height="0.9" fill="#2a4362" opacity="0.6"/><rect x="1507.5" y="947.8" width="13" height="0.9" fill="#2a4362" opacity="0.6"/><rect x="1507.5" y="950.4" width="13" height="0.9" fill="#2a4362" opacity="0.6"/><path d="M1507,994 L1520,994 L1519,1000.5 L1508,1000.5 Z" fill="#dcdcda"/><path d="M1495.5,984 L1532,984 L1532,991 L1526,995.5 L1502,995.5 L1495.5,991 Z" fill="#d6d6d3"/><rect x="1505.5" y="984" width="17" height="11.5" fill="#a9a9a5"/><rect x="1497" y="965" width="33.8" height="20" fill="url(#g107)"/><path d="M1497,966 L1497,956 Q1498,950.7 1503,950.7 L1526,950.7 Q1531,950.7 1531.7,956 L1531.7,966 Q1515,968.5 1497,966 Z" fill="url(#g106)"/><circle cx="1515" cy="979" r="29" fill="none" stroke="#e5161b" stroke-width="2" stroke-dasharray="6.2 6.8" stroke-dashoffset="3"/><circle cx="1515" cy="979" r="12" fill="#e8111a"/>
<rect x="1777.5" y="881.1" width="13" height="15" rx="1" fill="url(#g105)"/><rect x="1777.5" y="883.6" width="13" height="0.9" fill="#2a4362" opacity="0.6"/><rect x="1777.5" y="886.2" width="13" height="0.9" fill="#2a4362" opacity="0.6"/><rect x="1777.5" y="888.8" width="13" height="0.9" fill="#2a4362" opacity="0.6"/><rect x="1777.5" y="891.4" width="13" height="0.9" fill="#2a4362" opacity="0.6"/><rect x="1777.5" y="894" width="13" height="0.9" fill="#2a4362" opacity="0.6"/><path d="M1777,937.6 L1790,937.6 L1789,944.1 L1778,944.1 Z" fill="#dcdcda"/><path d="M1765.5,927.6 L1802,927.6 L1802,934.6 L1796,939.1 L1772,939.1 L1765.5,934.6 Z" fill="#d6d6d3"/><rect x="1775.5" y="927.6" width="17" height="11.5" fill="#a9a9a5"/><rect x="1767" y="908.6" width="33.8" height="20" fill="url(#g107)"/><path d="M1767,909.6 L1767,899.6 Q1768,894.3 1773,894.3 L1796,894.3 Q1801,894.3 1801.7,899.6 L1801.7,909.6 Q1785,912.1 1767,909.6 Z" fill="url(#g106)"/><circle cx="1785" cy="922.6" r="29" fill="none" stroke="#e5161b" stroke-width="2" stroke-dasharray="6.2 6.8" stroke-dashoffset="3"/><circle cx="1785" cy="922.6" r="12" fill="#e8111a"/>
<path d="M418.3,1812 A41,41 0 0 0 459.3,1853 L459.3,1824 A12,12 0 0 1 447.3,1812 Z" fill="url(#g108)"/>
<path d="M490.5,1853 A41,41 0 0 0 531.5,1812 L502.5,1812 A12,12 0 0 1 490.5,1824 Z" fill="url(#g109)"/>
<path d="M502.5,1677.5 A45,45 0 0 1 547.5,1632.5 L547.5,1661.5 A16,16 0 0 0 531.5,1677.5 Z" fill="url(#g110)"/>
<path d="M628,1632.5 A45,45 0 0 1 673,1677.5 L644,1677.5 A16,16 0 0 0 628,1661.5 Z" fill="url(#g111)"/>
<path d="M644,1812 A41,41 0 0 0 685,1853 L685,1824 A12,12 0 0 1 673,1812 Z" fill="url(#g112)"/>
<polygon points="384.8,1116 447.3,1116 418.3,1145 384.8,1145" fill="url(#g1)"/>
<polygon points="447.3,1116 447.3,1812.5 418.3,1812.5 418.3,1145" fill="url(#g2)"/>
<polygon points="458.8,1824 491,1824 491,1853 458.8,1853" fill="url(#g1)"/>
<polygon points="502.5,1812.5 502.5,1677 531.5,1677 531.5,1812.5" fill="url(#g70)"/>
<polygon points="547,1632.5 628.5,1632.5 628.5,1661.5 547,1661.5" fill="url(#g1)"/>
<polygon points="673,1677 673,1812.5 644,1812.5 644,1677" fill="url(#g2)"/>
<polygon points="684.5,1824 1187,1824 1187,1853 684.5,1853" fill="url(#g1)"/>
<path d="M495.5,1391.8 A46,46 0 0 0 541.5,1437.8 L541.5,1408.8 A17,17 0 0 1 524.5,1391.8 Z" fill="url(#g113)"/>
<path d="M1078.2,1408.8 A46,46 0 0 1 1124.2,1454.8 L1095.2,1454.8 A17,17 0 0 0 1078.2,1437.8 Z" fill="url(#g114)"/>
<path d="M1095.2,1708.1 A46,46 0 0 0 1141.2,1754.1 L1141.2,1725.1 A17,17 0 0 1 1124.2,1708.1 Z" fill="url(#g115)"/>
<polygon points="485,1003.5 524.5,1003.5 495.5,1032.5 485,1032.5" fill="url(#g1)"/>
<polygon points="524.5,1003.5 524.5,1392.3 495.5,1392.3 495.5,1032.5" fill="url(#g2)"/>
<polygon points="541,1408.8 1078.7,1408.8 1078.7,1437.8 541,1437.8" fill="url(#g1)"/>
<polygon points="1124.2,1454.3 1124.2,1708.6 1095.2,1708.6 1095.2,1454.3" fill="url(#g2)"/>
<polygon points="1140.7,1725.1 1187,1725.1 1187,1754.1 1140.7,1754.1" fill="url(#g1)"/>
<rect x="482.3" y="1356.1" width="11" height="6" rx="0.9" fill="#5f7d9c"/><rect x="484.3" y="1357.4" width="7" height="3.4" rx="0.8" fill="#9fb2cd"/><rect x="482.3" y="1372.7" width="11" height="6" rx="0.9" fill="#5f7d9c"/><rect x="484.3" y="1374" width="7" height="3.4" rx="0.8" fill="#9fb2cd"/><rect x="505.5" y="1356.1" width="11" height="6" rx="0.9" fill="#5f7d9c"/><rect x="507.5" y="1357.4" width="7" height="3.4" rx="0.8" fill="#9fb2cd"/><rect x="505.5" y="1372.7" width="11" height="6" rx="0.9" fill="#5f7d9c"/><rect x="507.5" y="1374" width="7" height="3.4" rx="0.8" fill="#9fb2cd"/><rect x="528.7" y="1356.1" width="11" height="6" rx="0.9" fill="#5f7d9c"/><rect x="530.7" y="1357.4" width="7" height="3.4" rx="0.8" fill="#9fb2cd"/><rect x="528.7" y="1372.7" width="11" height="6" rx="0.9" fill="#5f7d9c"/><rect x="530.7" y="1374" width="7" height="3.4" rx="0.8" fill="#9fb2cd"/><rect x="481.5" y="1361.1" width="59" height="12.6" rx="1" fill="url(#g84)"/><rect x="481.5" y="1366.9" width="59" height="1" fill="#4b5b6c"/>
<rect x="490.8" y="1733.1" width="11" height="6" rx="0.9" fill="#5f7d9c"/><rect x="492.8" y="1734.4" width="7" height="3.4" rx="0.8" fill="#9fb2cd"/><rect x="490.8" y="1749.7" width="11" height="6" rx="0.9" fill="#5f7d9c"/><rect x="492.8" y="1751" width="7" height="3.4" rx="0.8" fill="#9fb2cd"/><rect x="511" y="1733.1" width="11" height="6" rx="0.9" fill="#5f7d9c"/><rect x="513" y="1734.4" width="7" height="3.4" rx="0.8" fill="#9fb2cd"/><rect x="511" y="1749.7" width="11" height="6" rx="0.9" fill="#5f7d9c"/><rect x="513" y="1751" width="7" height="3.4" rx="0.8" fill="#9fb2cd"/><rect x="531.2" y="1733.1" width="11" height="6" rx="0.9" fill="#5f7d9c"/><rect x="533.2" y="1734.4" width="7" height="3.4" rx="0.8" fill="#9fb2cd"/><rect x="531.2" y="1749.7" width="11" height="6" rx="0.9" fill="#5f7d9c"/><rect x="533.2" y="1751" width="7" height="3.4" rx="0.8" fill="#9fb2cd"/><rect x="490" y="1738.1" width="53" height="12.6" rx="1" fill="url(#g84)"/><rect x="490" y="1743.9" width="53" height="1" fill="#4b5b6c"/>
<rect x="633.3" y="1733.1" width="11" height="6" rx="0.9" fill="#5f7d9c"/><rect x="635.3" y="1734.4" width="7" height="3.4" rx="0.8" fill="#9fb2cd"/><rect x="633.3" y="1749.7" width="11" height="6" rx="0.9" fill="#5f7d9c"/><rect x="635.3" y="1751" width="7" height="3.4" rx="0.8" fill="#9fb2cd"/><rect x="653.5" y="1733.1" width="11" height="6" rx="0.9" fill="#5f7d9c"/><rect x="655.5" y="1734.4" width="7" height="3.4" rx="0.8" fill="#9fb2cd"/><rect x="653.5" y="1749.7" width="11" height="6" rx="0.9" fill="#5f7d9c"/><rect x="655.5" y="1751" width="7" height="3.4" rx="0.8" fill="#9fb2cd"/><rect x="673.7" y="1733.1" width="11" height="6" rx="0.9" fill="#5f7d9c"/><rect x="675.7" y="1734.4" width="7" height="3.4" rx="0.8" fill="#9fb2cd"/><rect x="673.7" y="1749.7" width="11" height="6" rx="0.9" fill="#5f7d9c"/><rect x="675.7" y="1751" width="7" height="3.4" rx="0.8" fill="#9fb2cd"/><rect x="632.5" y="1738.1" width="53" height="12.6" rx="1" fill="url(#g84)"/><rect x="632.5" y="1743.9" width="53" height="1" fill="#4b5b6c"/>
<rect x="898.3" y="1408" width="106" height="31" fill="url(#g96)"/><rect x="875" y="1389.3" width="7" height="14" rx="0.9" fill="#5f7d9c"/><rect x="876.3" y="1391.3" width="4.4" height="10" rx="0.8" fill="#9fb2cd"/><rect x="897.5" y="1389.3" width="7" height="14" rx="0.9" fill="#5f7d9c"/><rect x="898.8" y="1391.3" width="4.4" height="10" rx="0.8" fill="#9fb2cd"/><rect x="875" y="1416.5" width="7" height="14" rx="0.9" fill="#5f7d9c"/><rect x="876.3" y="1418.5" width="4.4" height="10" rx="0.8" fill="#9fb2cd"/><rect x="897.5" y="1416.5" width="7" height="14" rx="0.9" fill="#5f7d9c"/><rect x="898.8" y="1418.5" width="4.4" height="10" rx="0.8" fill="#9fb2cd"/><rect x="875" y="1443.7" width="7" height="14" rx="0.9" fill="#5f7d9c"/><rect x="876.3" y="1445.7" width="4.4" height="10" rx="0.8" fill="#9fb2cd"/><rect x="897.5" y="1443.7" width="7" height="14" rx="0.9" fill="#5f7d9c"/><rect x="898.8" y="1445.7" width="4.4" height="10" rx="0.8" fill="#9fb2cd"/><rect x="881" y="1388.5" width="17.5" height="70" rx="1" fill="url(#g83)"/><rect x="889.3" y="1388.5" width="1" height="70" fill="#4b5b6c"/><rect x="998" y="1389.3" width="7" height="14" rx="0.9" fill="#5f7d9c"/><rect x="999.3" y="1391.3" width="4.4" height="10" rx="0.8" fill="#9fb2cd"/><rect x="1020.5" y="1389.3" width="7" height="14" rx="0.9" fill="#5f7d9c"/><rect x="1021.8" y="1391.3" width="4.4" height="10" rx="0.8" fill="#9fb2cd"/><rect x="998" y="1416.5" width="7" height="14" rx="0.9" fill="#5f7d9c"/><rect x="999.3" y="1418.5" width="4.4" height="10" rx="0.8" fill="#9fb2cd"/><rect x="1020.5" y="1416.5" width="7" height="14" rx="0.9" fill="#5f7d9c"/><rect x="1021.8" y="1418.5" width="4.4" height="10" rx="0.8" fill="#9fb2cd"/><rect x="998" y="1443.7" width="7" height="14" rx="0.9" fill="#5f7d9c"/><rect x="999.3" y="1445.7" width="4.4" height="10" rx="0.8" fill="#9fb2cd"/><rect x="1020.5" y="1443.7" width="7" height="14" rx="0.9" fill="#5f7d9c"/><rect x="1021.8" y="1445.7" width="4.4" height="10" rx="0.8" fill="#9fb2cd"/><rect x="1004" y="1388.5" width="17.5" height="70" rx="1" fill="url(#g83)"/><rect x="1012.3" y="1388.5" width="1" height="70" fill="#4b5b6c"/><rect x="947.1" y="1289.5" width="8.4" height="26" fill="url(#g104)"/><rect x="911" y="1297.5" width="80.6" height="10" rx="2.5" fill="url(#g97)"/><rect x="936.6" y="1314.8" width="29.4" height="13" rx="2" fill="url(#g98)"/><rect x="943.3" y="1327" width="16" height="28" fill="#9ba6b4"/><path d="M944.3,1351.5 L932.3,1352.5 Q930.3,1357.5 933.3,1361 L943.3,1365.5 Z" fill="#a9b3bf"/><circle cx="934.8" cy="1357.7" r="2.4" fill="#e9edf2" stroke="#8893a0" stroke-width="0.8"/><rect x="933.4" y="1333" width="3.4" height="22" fill="#2c2c30"/><rect x="928.6" y="1335.5" width="12.4" height="5" rx="0.8" fill="#aeb7c2"/><rect x="931" y="1336.3" width="7.6" height="3" rx="0.5" fill="#cdd3da"/><path d="M958.3,1351.5 L970.3,1352.5 Q972.3,1357.5 969.3,1361 L959.3,1365.5 Z" fill="#a9b3bf"/><circle cx="967.8" cy="1357.7" r="2.4" fill="#e9edf2" stroke="#8893a0" stroke-width="0.8"/><rect x="965.8" y="1333" width="3.4" height="22" fill="#2c2c30"/><rect x="961.6" y="1335.5" width="12.4" height="5" rx="0.8" fill="#aeb7c2"/><rect x="964" y="1336.3" width="7.6" height="3" rx="0.5" fill="#cdd3da"/><rect x="927.3" y="1340.3" width="48" height="7" rx="0.8" fill="#a9b3bf"/><rect x="943.3" y="1339.5" width="16" height="16" fill="#9ba6b4"/><rect x="943.3" y="1354.5" width="16" height="21" fill="url(#g99)"/><path d="M936.5,1389.5 A14.8,15.5 0 0 1 966.1,1389.5 Z" fill="url(#g103)"/><path d="M932.3,1399.5 L970.3,1399.5 L968.6,1427.5 Q968.3,1446 951.3,1446.3 Q934.3,1446 934,1427.5 Z" fill="url(#g101)"/><path d="M932.3,1399.5 L970.3,1399.5 L968.6,1427.5 Q968.3,1446 951.3,1446.3 Q934.3,1446 934,1427.5 Z" fill="url(#g102)"/><rect x="921.7" y="1382.5" width="12.6" height="5.5" rx="0.8" fill="#a3abb6"/><rect x="924" y="1383.6" width="8" height="3.4" rx="0.6" fill="#cdd2d8"/><rect x="921.7" y="1400" width="12.6" height="5.5" rx="0.8" fill="#9fa7b2"/><rect x="924" y="1401.1" width="8" height="3.3" rx="0.6" fill="#c8cdd4"/><rect x="945.4" y="1382.5" width="12.6" height="5.5" rx="0.8" fill="#a3abb6"/><rect x="947.7" y="1383.6" width="8" height="3.4" rx="0.6" fill="#cdd2d8"/><rect x="945.4" y="1400" width="12.6" height="5.5" rx="0.8" fill="#9fa7b2"/><rect x="947.7" y="1401.1" width="8" height="3.3" rx="0.6" fill="#c8cdd4"/><rect x="968.5" y="1382.5" width="12.6" height="5.5" rx="0.8" fill="#a3abb6"/><rect x="970.8" y="1383.6" width="8" height="3.4" rx="0.6" fill="#cdd2d8"/><rect x="968.5" y="1400" width="12.6" height="5.5" rx="0.8" fill="#9fa7b2"/><rect x="970.8" y="1401.1" width="8" height="3.3" rx="0.6" fill="#c8cdd4"/><rect x="921.3" y="1387.5" width="60" height="13" rx="1" fill="url(#g100)"/><rect x="921.3" y="1393.2" width="60" height="1.3" fill="#7d8793"/>
<rect x="817" y="1822.4" width="106" height="31" fill="url(#g96)"/><rect x="793.8" y="1803.7" width="7" height="14" rx="0.9" fill="#5f7d9c"/><rect x="795" y="1805.7" width="4.4" height="10" rx="0.8" fill="#9fb2cd"/><rect x="816.2" y="1803.7" width="7" height="14" rx="0.9" fill="#5f7d9c"/><rect x="817.5" y="1805.7" width="4.4" height="10" rx="0.8" fill="#9fb2cd"/><rect x="793.8" y="1830.9" width="7" height="14" rx="0.9" fill="#5f7d9c"/><rect x="795" y="1832.9" width="4.4" height="10" rx="0.8" fill="#9fb2cd"/><rect x="816.2" y="1830.9" width="7" height="14" rx="0.9" fill="#5f7d9c"/><rect x="817.5" y="1832.9" width="4.4" height="10" rx="0.8" fill="#9fb2cd"/><rect x="793.8" y="1858.1" width="7" height="14" rx="0.9" fill="#5f7d9c"/><rect x="795" y="1860.1" width="4.4" height="10" rx="0.8" fill="#9fb2cd"/><rect x="816.2" y="1858.1" width="7" height="14" rx="0.9" fill="#5f7d9c"/><rect x="817.5" y="1860.1" width="4.4" height="10" rx="0.8" fill="#9fb2cd"/><rect x="799.8" y="1802.9" width="17.5" height="70" rx="1" fill="url(#g83)"/><rect x="808" y="1802.9" width="1" height="70" fill="#4b5b6c"/><rect x="916.8" y="1803.7" width="7" height="14" rx="0.9" fill="#5f7d9c"/><rect x="918" y="1805.7" width="4.4" height="10" rx="0.8" fill="#9fb2cd"/><rect x="939.2" y="1803.7" width="7" height="14" rx="0.9" fill="#5f7d9c"/><rect x="940.5" y="1805.7" width="4.4" height="10" rx="0.8" fill="#9fb2cd"/><rect x="916.8" y="1830.9" width="7" height="14" rx="0.9" fill="#5f7d9c"/><rect x="918" y="1832.9" width="4.4" height="10" rx="0.8" fill="#9fb2cd"/><rect x="939.2" y="1830.9" width="7" height="14" rx="0.9" fill="#5f7d9c"/><rect x="940.5" y="1832.9" width="4.4" height="10" rx="0.8" fill="#9fb2cd"/><rect x="916.8" y="1858.1" width="7" height="14" rx="0.9" fill="#5f7d9c"/><rect x="918" y="1860.1" width="4.4" height="10" rx="0.8" fill="#9fb2cd"/><rect x="939.2" y="1858.1" width="7" height="14" rx="0.9" fill="#5f7d9c"/><rect x="940.5" y="1860.1" width="4.4" height="10" rx="0.8" fill="#9fb2cd"/><rect x="922.8" y="1802.9" width="17.5" height="70" rx="1" fill="url(#g83)"/><rect x="931" y="1802.9" width="1" height="70" fill="#4b5b6c"/><rect x="865.8" y="1703.9" width="8.4" height="26" fill="url(#g104)"/><rect x="829.7" y="1711.9" width="80.6" height="10" rx="2.5" fill="url(#g97)"/><rect x="855.3" y="1729.2" width="29.4" height="13" rx="2" fill="url(#g98)"/><rect x="862" y="1741.4" width="16" height="28" fill="#9ba6b4"/><path d="M863,1765.9 L851,1766.9 Q849,1771.9 852,1775.4 L862,1779.9 Z" fill="#a9b3bf"/><circle cx="853.5" cy="1772.1" r="2.4" fill="#e9edf2" stroke="#8893a0" stroke-width="0.8"/><rect x="852.1" y="1747.4" width="3.4" height="22" fill="#2c2c30"/><rect x="847.3" y="1749.9" width="12.4" height="5" rx="0.8" fill="#aeb7c2"/><rect x="849.7" y="1750.7" width="7.6" height="3" rx="0.5" fill="#cdd3da"/><path d="M877,1765.9 L889,1766.9 Q891,1771.9 888,1775.4 L878,1779.9 Z" fill="#a9b3bf"/><circle cx="886.5" cy="1772.1" r="2.4" fill="#e9edf2" stroke="#8893a0" stroke-width="0.8"/><rect x="884.5" y="1747.4" width="3.4" height="22" fill="#2c2c30"/><rect x="880.3" y="1749.9" width="12.4" height="5" rx="0.8" fill="#aeb7c2"/><rect x="882.7" y="1750.7" width="7.6" height="3" rx="0.5" fill="#cdd3da"/><rect x="846" y="1754.7" width="48" height="7" rx="0.8" fill="#a9b3bf"/><rect x="862" y="1753.9" width="16" height="16" fill="#9ba6b4"/><rect x="862" y="1768.9" width="16" height="21" fill="url(#g99)"/><path d="M855.2,1803.9 A14.8,15.5 0 0 1 884.8,1803.9 Z" fill="url(#g103)"/><path d="M851,1813.9 L889,1813.9 L887.3,1841.9 Q887,1860.4 870,1860.7 Q853,1860.4 852.7,1841.9 Z" fill="url(#g101)"/><path d="M851,1813.9 L889,1813.9 L887.3,1841.9 Q887,1860.4 870,1860.7 Q853,1860.4 852.7,1841.9 Z" fill="url(#g102)"/><rect x="840.4" y="1796.9" width="12.6" height="5.5" rx="0.8" fill="#a3abb6"/><rect x="842.7" y="1798" width="8" height="3.4" rx="0.6" fill="#cdd2d8"/><rect x="840.4" y="1814.4" width="12.6" height="5.5" rx="0.8" fill="#9fa7b2"/><rect x="842.7" y="1815.5" width="8" height="3.3" rx="0.6" fill="#c8cdd4"/><rect x="864.1" y="1796.9" width="12.6" height="5.5" rx="0.8" fill="#a3abb6"/><rect x="866.4" y="1798" width="8" height="3.4" rx="0.6" fill="#cdd2d8"/><rect x="864.1" y="1814.4" width="12.6" height="5.5" rx="0.8" fill="#9fa7b2"/><rect x="866.4" y="1815.5" width="8" height="3.3" rx="0.6" fill="#c8cdd4"/><rect x="887.2" y="1796.9" width="12.6" height="5.5" rx="0.8" fill="#a3abb6"/><rect x="889.5" y="1798" width="8" height="3.4" rx="0.6" fill="#cdd2d8"/><rect x="887.2" y="1814.4" width="12.6" height="5.5" rx="0.8" fill="#9fa7b2"/><rect x="889.5" y="1815.5" width="8" height="3.3" rx="0.6" fill="#c8cdd4"/><rect x="840" y="1801.9" width="60" height="13" rx="1" fill="url(#g100)"/><rect x="840" y="1807.6" width="60" height="1.3" fill="#7d8793"/>
<rect x="782.4" y="1402.8" width="13.6" height="17.5" rx="1.5" fill="url(#g116)"/><rect x="782.4" y="1407.8" width="13.6" height="1.3" fill="#8f8f8d" opacity="0.55"/><rect x="782.4" y="1412" width="13.6" height="1.3" fill="#8f8f8d" opacity="0.55"/><rect x="782.4" y="1416.2" width="13.6" height="1.3" fill="#8f8f8d" opacity="0.55"/><rect x="782.9" y="1346.3" width="13" height="15" rx="1" fill="url(#g105)"/><rect x="782.9" y="1348.8" width="13" height="0.9" fill="#2a4362" opacity="0.6"/><rect x="782.9" y="1351.4" width="13" height="0.9" fill="#2a4362" opacity="0.6"/><rect x="782.9" y="1354" width="13" height="0.9" fill="#2a4362" opacity="0.6"/><rect x="782.9" y="1356.6" width="13" height="0.9" fill="#2a4362" opacity="0.6"/><rect x="782.9" y="1359.2" width="13" height="0.9" fill="#2a4362" opacity="0.6"/><path d="M782.4,1402.8 L795.4,1402.8 L794.4,1409.3 L783.4,1409.3 Z" fill="#dcdcda"/><path d="M770.9,1392.8 L807.4,1392.8 L807.4,1399.8 L801.4,1404.3 L777.4,1404.3 L770.9,1399.8 Z" fill="#d6d6d3"/><rect x="780.9" y="1392.8" width="17" height="11.5" fill="#a9a9a5"/><rect x="772.4" y="1373.8" width="33.8" height="20" fill="url(#g107)"/><path d="M772.4,1374.8 L772.4,1364.8 Q773.4,1359.5 778.4,1359.5 L801.4,1359.5 Q806.4,1359.5 807.1,1364.8 L807.1,1374.8 Q790.4,1377.3 772.4,1374.8 Z" fill="url(#g106)"/><circle cx="790.4" cy="1386.2" r="29" fill="none" stroke="#e5161b" stroke-width="2" stroke-dasharray="6.2 6.8" stroke-dashoffset="3"/><circle cx="790.4" cy="1386.2" r="12" fill="#e8111a"/>
<rect x="736.9" y="1762.5" width="13" height="15" rx="1" fill="url(#g105)"/><rect x="736.9" y="1765" width="13" height="0.9" fill="#2a4362" opacity="0.6"/><rect x="736.9" y="1767.6" width="13" height="0.9" fill="#2a4362" opacity="0.6"/><rect x="736.9" y="1770.2" width="13" height="0.9" fill="#2a4362" opacity="0.6"/><rect x="736.9" y="1772.8" width="13" height="0.9" fill="#2a4362" opacity="0.6"/><rect x="736.9" y="1775.4" width="13" height="0.9" fill="#2a4362" opacity="0.6"/><path d="M736.4,1819 L749.4,1819 L748.4,1825.5 L737.4,1825.5 Z" fill="#dcdcda"/><path d="M724.9,1809 L761.4,1809 L761.4,1816 L755.4,1820.5 L731.4,1820.5 L724.9,1816 Z" fill="#d6d6d3"/><rect x="734.9" y="1809" width="17" height="11.5" fill="#a9a9a5"/><rect x="726.4" y="1790" width="33.8" height="20" fill="url(#g107)"/><path d="M726.4,1791 L726.4,1781 Q727.4,1775.7 732.4,1775.7 L755.4,1775.7 Q760.4,1775.7 761.1,1781 L761.1,1791 Q744.4,1793.5 726.4,1791 Z" fill="url(#g106)"/><circle cx="744.4" cy="1798.2" r="29" fill="none" stroke="#e5161b" stroke-width="2" stroke-dasharray="6.2 6.8" stroke-dashoffset="3"/><circle cx="744.4" cy="1798.2" r="12" fill="#e8111a"/>
<path d="M1168.6,1870 Q1380,1864 1592,1870 L1592,1914 Q1380,1926 1168.6,1914 Z" fill="url(#g117)"/>
<path d="M1168.6,1900 Q1380,1912 1592,1900 L1592,1914 Q1380,1926 1168.6,1914 Z" fill="#b5c0cf" opacity="0.8"/>
<path d="M1168.6,1870 Q1380,1864 1592,1870 Q1380,1880 1168.6,1870 Z" fill="#cdd9e2"/>
<path d="M1185.5,1475.6 Q1376,1467.6 1567.6,1475.6 L1567.6,1871 Q1376,1876 1185.5,1871 Z" fill="url(#g118)"/>
<path d="M1212,1473.6 Q1300,1470.6 1414,1471.6 L1414,1851 Q1300,1853 1212,1849 Z" fill="#f4fbff" opacity="0.38"/>
<path d="M1212,1473.6 Q1270,1471.6 1335.5,1471.6 L1335.5,1834 L1212,1833 Z" fill="#ffffff" opacity="0.55"/>
<path d="M1185.5,1553 Q1376,1558 1567.6,1553" fill="none" stroke="#9fbbd4" stroke-width="1"/>
<path d="M1185.5,1678.6 Q1376,1683.6 1567.6,1678.6" fill="none" stroke="#9fbbd4" stroke-width="1"/>
<path d="M1185.5,1799 Q1376,1804 1567.6,1799" fill="none" stroke="#9fbbd4" stroke-width="1"/>
<rect x="1335.8" y="1608.4" width="12.4" height="76.3" fill="#23629b"/><rect x="1383.7" y="1608.4" width="12.4" height="76.3" fill="#23629b"/><rect x="1335.8" y="1640" width="60.3" height="10.3" fill="#23629b"/><path d="M1406.5,1663.8 C1409.6,1660.7 1413.9,1659 1418.5,1659 C1424.3,1659 1428.3,1662.6 1428.3,1668 C1428.3,1673.9 1424.3,1678.1 1418.9,1683.5 L1407,1695.4" fill="none" stroke="#23629b" stroke-width="6.6"/><path d="M1404.8,1696 L1434,1696" fill="none" stroke="#23629b" stroke-width="5.6"/>
<path d="M83,1641 L83,2072 L336.5,2072" fill="none" stroke="#e0141c" stroke-width="2" stroke-dasharray="4.6 3.4"/>
<path d="M83,1641 L336.5,1641 L336.5,2072" fill="none" stroke="#e0141c" stroke-width="1.1" stroke-dasharray="4.6 3.4"/>
<path d="M343,1943.8 L742.2,1943.8 L742.2,1828" fill="none" stroke="#e0141c" stroke-width="2" stroke-dasharray="6.2 3.6"/>
<path d="M179.5,1746 L179.5,1681 Q179.5,1676 185,1676 L241,1676 Q246.5,1676 246.5,1681 L246.5,1746 Z" fill="url(#g119)"/>
<rect x="177.5" y="1686" width="71" height="3.6" rx="1.5" fill="url(#g119)"/>
<rect x="179" y="1689.4" width="68" height="2.2" fill="#26405f" opacity="0.7"/>
<rect x="177.5" y="1692.6" width="71" height="3.6" rx="1.5" fill="url(#g119)"/>
<rect x="179" y="1696" width="68" height="2.2" fill="#26405f" opacity="0.7"/>
<rect x="177.5" y="1699.2" width="71" height="3.6" rx="1.5" fill="url(#g119)"/>
<rect x="179" y="1702.6" width="68" height="2.2" fill="#26405f" opacity="0.7"/>
<rect x="177.5" y="1705.8" width="71" height="3.6" rx="1.5" fill="url(#g119)"/>
<rect x="179" y="1709.2" width="68" height="2.2" fill="#26405f" opacity="0.7"/>
<rect x="177.5" y="1712.4" width="71" height="3.6" rx="1.5" fill="url(#g119)"/>
<rect x="179" y="1715.8" width="68" height="2.2" fill="#26405f" opacity="0.7"/>
<rect x="177.5" y="1719" width="71" height="3.6" rx="1.5" fill="url(#g119)"/>
<rect x="179" y="1722.4" width="68" height="2.2" fill="#26405f" opacity="0.7"/>
<rect x="177.5" y="1725.6" width="71" height="3.6" rx="1.5" fill="url(#g119)"/>
<rect x="179" y="1729" width="68" height="2.2" fill="#26405f" opacity="0.7"/>
<rect x="177.5" y="1732.2" width="71" height="3.6" rx="1.5" fill="url(#g119)"/>
<rect x="179" y="1735.6" width="68" height="2.2" fill="#26405f" opacity="0.7"/>
<rect x="175.7" y="1739" width="74" height="8" fill="#2b4668"/>
<rect x="125.5" y="1826" width="172.5" height="92" fill="url(#g120)"/>
<rect x="191" y="1840" width="2.6" height="68" fill="#e3cb7e"/>
<rect x="196" y="1840" width="2.6" height="68" fill="#e3cb7e"/>
<rect x="201" y="1840" width="2.6" height="68" fill="#e3cb7e"/>
<rect x="221.5" y="1840" width="2.6" height="68" fill="#e3cb7e"/>
<rect x="228" y="1840" width="2.6" height="68" fill="#e3cb7e"/>
<rect x="234.5" y="1840" width="2.6" height="68" fill="#e3cb7e"/>
<rect x="209.5" y="1874" width="6" height="34" fill="#c9c9c9"/>
<rect x="211.5" y="1874" width="2" height="34" fill="#eeeeee"/>
<path d="M160.7,1908 Q211,1899 262.7,1908 L262.7,1930 L160.7,1930 Z" fill="url(#g121)"/>
<ellipse cx="211.7" cy="1907" rx="38" ry="4.5" fill="#e6e6e6" stroke="#c4c4c4" stroke-width="0.8"/>
<path d="M117,1926 Q117.5,1918 126,1917 L297,1917 Q305.5,1918 306,1926 L306,1962 Q300,1975 290,1978 L133,1978 Q122,1975 117,1962 Z" fill="url(#g122)"/>
<rect x="160.7" y="1930" width="102" height="14" fill="url(#g121)"/>
<ellipse cx="218" cy="1940" rx="43" ry="7.5" fill="#9d9d9b"/>
<path d="M160.7,1943 Q175,1944 178,1946.5 Q218,1953 258,1946.5 Q261,1944 262,1943 L262,1972 Q218,1984 160.7,1972 Z" fill="url(#g123)"/>
<path d="M175.5,1944.5 L175.5,1976" fill="none" stroke="#c7bd86" stroke-width="1"/>
<path d="M117,1926 Q117.5,1918 126,1917 L160,1917 L160,1978 L133,1978 Q122,1975 117,1962 Z" fill="#e6e6e4" opacity="0.85"/>
<path d="M263,1917 L297,1917 Q305.5,1918 306,1926 L306,1962 Q300,1975 290,1978 L263,1978 Z" fill="#ececea" opacity="0.85"/>
<path d="M155.5,1978 L268,1978 Q268,1988 258,1991.5 L165,1991.5 Q155.5,1988 155.5,1978 Z" fill="url(#g124)"/>
<path d="M155.5,1978 L268,1978 L268,1981 L155.5,1981 Z" fill="#9c9c9c" opacity="0.5"/>
<path d="M178,1991.5 L245,1991.5 L245,2052 Q245,2057.5 239,2057.5 L184,2057.5 Q178,2057.5 178,2052 Z" fill="url(#g125)"/>
<rect x="175" y="2009" width="73" height="4.4" rx="2" fill="url(#g125)"/>
<rect x="178" y="2013.2" width="67" height="2.6" fill="#858585" opacity="0.6"/>
<rect x="175" y="2016.6" width="73" height="4.4" rx="2" fill="url(#g125)"/>
<rect x="178" y="2020.8" width="67" height="2.6" fill="#858585" opacity="0.6"/>
<rect x="175" y="2024.2" width="73" height="4.4" rx="2" fill="url(#g125)"/>
<rect x="178" y="2028.4" width="67" height="2.6" fill="#858585" opacity="0.6"/>
<rect x="175" y="2031.8" width="73" height="4.4" rx="2" fill="url(#g125)"/>
<rect x="178" y="2036" width="67" height="2.6" fill="#858585" opacity="0.6"/>
<rect x="175" y="2039.4" width="73" height="4.4" rx="2" fill="url(#g125)"/>
<rect x="178" y="2043.6" width="67" height="2.6" fill="#858585" opacity="0.6"/>
<rect x="175" y="2047" width="73" height="4.4" rx="2" fill="url(#g125)"/>
<rect x="178" y="2051.2" width="67" height="2.6" fill="#858585" opacity="0.6"/>
<path d="M139,1746 L285,1746 L301,1760 L307,1808.8 L299,1829.7 Q213,1835 127,1829.7 L119,1808.8 L125,1760 Z" fill="url(#g126)"/>
<path d="M119,1808.8 Q213,1815 307,1808.8 L299,1829.7 Q213,1835 127,1829.7 Z" fill="url(#g127)"/>
<path d="M139,1746 L285,1746 L301,1760 Q213,1764 125,1760 Z" fill="url(#g128)"/>
<path d="M262,1749 L268,1762" fill="none" stroke="#000" stroke-width="2.2"/>
<path d="M119,1808.8 Q213,1815 307,1808.8" fill="none" stroke="#000" stroke-width="0.8" opacity="0.6"/>
<path d="M127,1829.7 Q213,1835 299,1829.7" fill="none" stroke="#c9c9c9" stroke-width="1.2"/>
<text x="153" y="1796.2" font-size="17.6" fill="#ffffff" textLength="117.5" lengthAdjust="spacingAndGlyphs" style="font-family:'Liberation Sans',sans-serif">MICROSENSOR</text>
</svg>
</body></html>
